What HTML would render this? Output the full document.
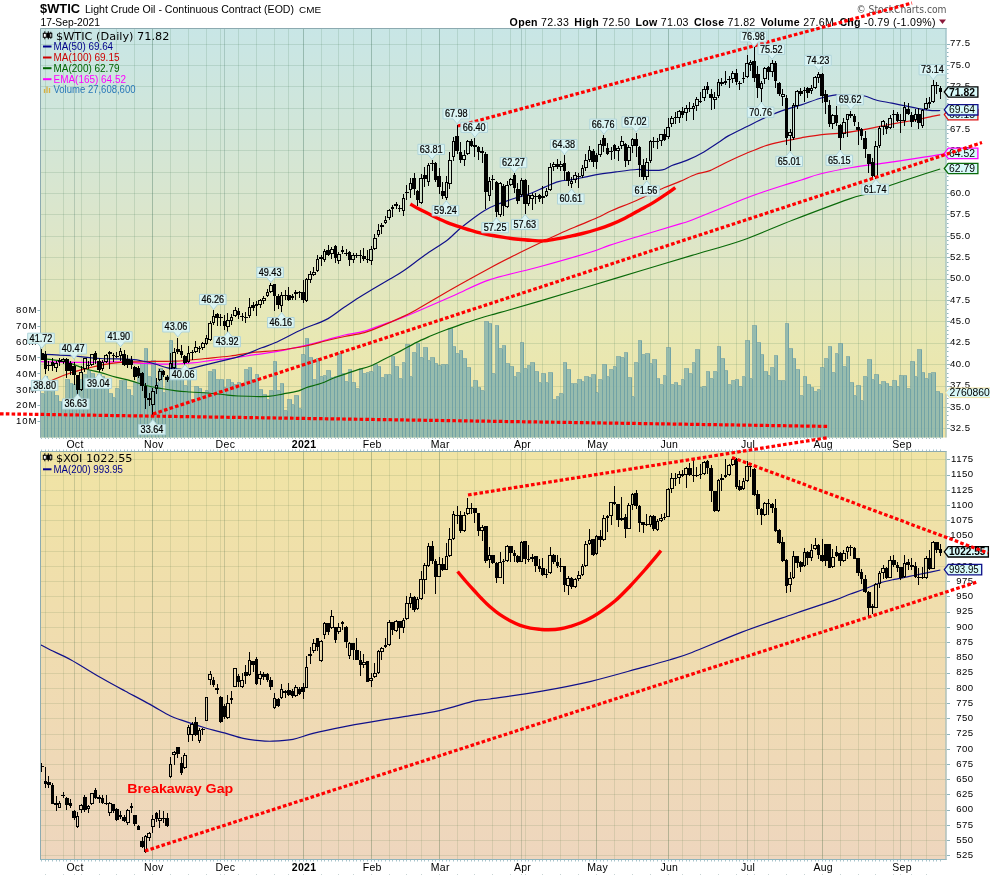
<!DOCTYPE html>
<html><head><meta charset="utf-8"><title>$WTIC Light Crude Oil</title>
<style>
html,body{margin:0;padding:0;background:#fff;}
svg{display:block;will-change:transform}
text{font-family:"Liberation Sans",sans-serif;fill:#000}
.ax{font-size:9.6px;letter-spacing:0.45px}
.mo{font-size:10.5px;text-anchor:middle;letter-spacing:0.3px}
.lg{font-size:11px}
.pl{font-size:10.2px;text-anchor:middle;stroke:#000;stroke-width:0.2px}
</style></head><body>
<svg width="990" height="876" viewBox="0 0 990 876">
<defs>
<linearGradient id="g1" x1="0" y1="0" x2="0" y2="1">
<stop offset="0" stop-color="#c8e6e6"/><stop offset="0.22" stop-color="#d0e6da"/><stop offset="0.52" stop-color="#dee6c8"/><stop offset="0.75" stop-color="#e8e8b4"/><stop offset="1" stop-color="#f0e4a4"/>
</linearGradient>
<linearGradient id="g2" x1="0" y1="0" x2="0" y2="1">
<stop offset="0" stop-color="#f0e4a4"/><stop offset="0.5" stop-color="#f0dcb0"/><stop offset="1" stop-color="#eed6be"/>
</linearGradient>
<clipPath id="c1"><rect x="40" y="28" width="906.5" height="409.5"/></clipPath>
<clipPath id="c2"><rect x="40" y="451" width="906.5" height="409"/></clipPath>
</defs>
<rect width="990" height="876" fill="#fff"/>

<rect x="40.0" y="28.0" width="906.5" height="409.5" fill="url(#g1)"/>
<rect x="40.0" y="451.0" width="906.5" height="409.0" fill="url(#g2)"/>
<path d="M40.0 428.5H946.5M40.0 407.5H946.5M40.0 386.5H946.5M40.0 364.5H946.5M40.0 343.5H946.5M40.0 321.5H946.5M40.0 300.5H946.5M40.0 279.5H946.5M40.0 257.5H946.5M40.0 236.5H946.5M40.0 214.5H946.5M40.0 193.5H946.5M40.0 172.5H946.5M40.0 150.5H946.5M40.0 129.5H946.5M40.0 108.5H946.5M40.0 86.5H946.5M40.0 65.5H946.5M40.0 44.5H946.5M45.5 28.0V437.5M63.5 28.0V437.5M81.5 28.0V437.5M99.5 28.0V437.5M116.5 28.0V437.5M134.5 28.0V437.5M152.5 28.0V437.5M170.5 28.0V437.5M188.5 28.0V437.5M206.5 28.0V437.5M220.5 28.0V437.5M238.5 28.0V437.5M256.5 28.0V437.5M274.5 28.0V437.5M288.5 28.0V437.5M303.5 28.0V437.5M321.5 28.0V437.5M338.5 28.0V437.5M353.5 28.0V437.5M371.5 28.0V437.5M389.5 28.0V437.5M406.5 28.0V437.5M421.5 28.0V437.5M439.5 28.0V437.5M457.5 28.0V437.5M474.5 28.0V437.5M492.5 28.0V437.5M510.5 28.0V437.5M525.5 28.0V437.5M542.5 28.0V437.5M560.5 28.0V437.5M578.5 28.0V437.5M596.5 28.0V437.5M614.5 28.0V437.5M632.5 28.0V437.5M650.5 28.0V437.5M668.5 28.0V437.5M682.5 28.0V437.5M700.5 28.0V437.5M718.5 28.0V437.5M736.5 28.0V437.5M754.5 28.0V437.5M768.5 28.0V437.5M786.5 28.0V437.5M804.5 28.0V437.5M822.5 28.0V437.5M840.5 28.0V437.5M858.5 28.0V437.5M875.5 28.0V437.5M893.5 28.0V437.5M911.5 28.0V437.5M926.5 28.0V437.5" stroke="#4a7a5a" stroke-opacity="0.17" stroke-width="1" fill="none"/>
<path d="M74.5 28.0V437.5M152.5 28.0V437.5M224.5 28.0V437.5M303.5 28.0V437.5M371.5 28.0V437.5M439.5 28.0V437.5M521.5 28.0V437.5M596.5 28.0V437.5M668.5 28.0V437.5M747.5 28.0V437.5M822.5 28.0V437.5M900.5 28.0V437.5" stroke="#3a6a5a" stroke-opacity="0.24" stroke-width="1" fill="none"/>
<path d="M40.0 855.5H946.5M40.0 840.5H946.5M40.0 825.5H946.5M40.0 810.5H946.5M40.0 794.5H946.5M40.0 779.5H946.5M40.0 764.5H946.5M40.0 749.5H946.5M40.0 734.5H946.5M40.0 718.5H946.5M40.0 703.5H946.5M40.0 688.5H946.5M40.0 673.5H946.5M40.0 657.5H946.5M40.0 642.5H946.5M40.0 627.5H946.5M40.0 612.5H946.5M40.0 596.5H946.5M40.0 581.5H946.5M40.0 566.5H946.5M40.0 551.5H946.5M40.0 536.5H946.5M40.0 520.5H946.5M40.0 505.5H946.5M40.0 490.5H946.5M40.0 475.5H946.5M40.0 459.5H946.5M45.5 451.0V860.0M63.5 451.0V860.0M81.5 451.0V860.0M99.5 451.0V860.0M116.5 451.0V860.0M134.5 451.0V860.0M152.5 451.0V860.0M170.5 451.0V860.0M188.5 451.0V860.0M206.5 451.0V860.0M220.5 451.0V860.0M238.5 451.0V860.0M256.5 451.0V860.0M274.5 451.0V860.0M288.5 451.0V860.0M303.5 451.0V860.0M321.5 451.0V860.0M338.5 451.0V860.0M353.5 451.0V860.0M371.5 451.0V860.0M389.5 451.0V860.0M406.5 451.0V860.0M421.5 451.0V860.0M439.5 451.0V860.0M457.5 451.0V860.0M474.5 451.0V860.0M492.5 451.0V860.0M510.5 451.0V860.0M525.5 451.0V860.0M542.5 451.0V860.0M560.5 451.0V860.0M578.5 451.0V860.0M596.5 451.0V860.0M614.5 451.0V860.0M632.5 451.0V860.0M650.5 451.0V860.0M668.5 451.0V860.0M682.5 451.0V860.0M700.5 451.0V860.0M718.5 451.0V860.0M736.5 451.0V860.0M754.5 451.0V860.0M768.5 451.0V860.0M786.5 451.0V860.0M804.5 451.0V860.0M822.5 451.0V860.0M840.5 451.0V860.0M858.5 451.0V860.0M875.5 451.0V860.0M893.5 451.0V860.0M911.5 451.0V860.0M926.5 451.0V860.0" stroke="#5a7a4a" stroke-opacity="0.15" stroke-width="1" fill="none"/>
<path d="M74.5 451.0V860.0M152.5 451.0V860.0M224.5 451.0V860.0M303.5 451.0V860.0M371.5 451.0V860.0M439.5 451.0V860.0M521.5 451.0V860.0M596.5 451.0V860.0M668.5 451.0V860.0M747.5 451.0V860.0M822.5 451.0V860.0M900.5 451.0V860.0" stroke="#4a6a4a" stroke-opacity="0.24" stroke-width="1" fill="none"/>
<g clip-path="url(#c1)">
<path d="M40.5 437.5V393.5H44.5V437.5M44.5 437.5V376.5H47.5V437.5M47.5 437.5V391.5H51.5V437.5M51.5 437.5V390.5H54.5V437.5M54.5 437.5V395.5H58.5V437.5M58.5 437.5V401.5H61.5V437.5M61.5 437.5V401.5H65.5V437.5M65.5 437.5V379.5H69.5V437.5M69.5 437.5V383.5H72.5V437.5M72.5 437.5V384.5H76.5V437.5M76.5 437.5V379.5H79.5V437.5M79.5 437.5V379.5H83.5V437.5M83.5 437.5V374.5H87.5V437.5M87.5 437.5V370.5H90.5V437.5M90.5 437.5V373.5H94.5V437.5M94.5 437.5V377.5H97.5V437.5M97.5 437.5V374.5H101.5V437.5M101.5 437.5V376.5H104.5V437.5M104.5 437.5V382.5H108.5V437.5M108.5 437.5V393.5H112.5V437.5M112.5 437.5V397.5H115.5V437.5M115.5 437.5V388.5H119.5V437.5M119.5 437.5V380.5H122.5V437.5M122.5 437.5V380.5H126.5V437.5M126.5 437.5V389.5H130.5V437.5M130.5 437.5V395.5H133.5V437.5M133.5 437.5V382.5H137.5V437.5M137.5 437.5V376.5H140.5V437.5M140.5 437.5V363.5H144.5V437.5M144.5 437.5V348.5H147.5V437.5M147.5 437.5V376.5H151.5V437.5M151.5 437.5V360.5H155.5V437.5M155.5 437.5V382.5H158.5V437.5M158.5 437.5V368.5H162.5V437.5M162.5 437.5V392.5H165.5V437.5M165.5 437.5V376.5H169.5V437.5M169.5 437.5V340.5H172.5V437.5M172.5 437.5V360.5H176.5V437.5M176.5 437.5V369.5H180.5V437.5M180.5 437.5V379.5H183.5V437.5M183.5 437.5V385.5H187.5V437.5M187.5 437.5V378.5H190.5V437.5M190.5 437.5V399.5H194.5V437.5M194.5 437.5V386.5H198.5V437.5M198.5 437.5V388.5H201.5V437.5M201.5 437.5V392.5H205.5V437.5M205.5 437.5V390.5H208.5V437.5M208.5 437.5V371.5H212.5V437.5M212.5 437.5V369.5H215.5V437.5M215.5 437.5V379.5H219.5V437.5M219.5 437.5V379.5H223.5V437.5M223.5 437.5V387.5H226.5V437.5M226.5 437.5V379.5H230.5V437.5M230.5 437.5V382.5H233.5V437.5M233.5 437.5V384.5H237.5V437.5M237.5 437.5V382.5H240.5V437.5M240.5 437.5V385.5H244.5V437.5M244.5 437.5V369.5H248.5V437.5M248.5 437.5V367.5H251.5V437.5M251.5 437.5V379.5H255.5V437.5M255.5 437.5V374.5H258.5V437.5M258.5 437.5V389.5H262.5V437.5M262.5 437.5V394.5H266.5V437.5M266.5 437.5V399.5H269.5V437.5M269.5 437.5V390.5H273.5V437.5M273.5 437.5V361.5H276.5V437.5M276.5 437.5V390.5H280.5V437.5M280.5 437.5V383.5H283.5V437.5M283.5 437.5V410.5H287.5V437.5M287.5 437.5V399.5H291.5V437.5M291.5 437.5V404.5H294.5V437.5M294.5 437.5V395.5H298.5V437.5M298.5 437.5V408.5H301.5V437.5M301.5 437.5V354.5H305.5V437.5M305.5 437.5V338.5H308.5V437.5M308.5 437.5V357.5H312.5V437.5M312.5 437.5V379.5H316.5V437.5M316.5 437.5V358.5H319.5V437.5M319.5 437.5V376.5H323.5V437.5M323.5 437.5V375.5H326.5V437.5M326.5 437.5V370.5H330.5V437.5M330.5 437.5V377.5H334.5V437.5M334.5 437.5V376.5H337.5V437.5M337.5 437.5V353.5H341.5V437.5M341.5 437.5V373.5H344.5V437.5M344.5 437.5V381.5H348.5V437.5M348.5 437.5V369.5H351.5V437.5M351.5 437.5V382.5H355.5V437.5M355.5 437.5V388.5H359.5V437.5M359.5 437.5V368.5H362.5V437.5M362.5 437.5V373.5H366.5V437.5M366.5 437.5V372.5H369.5V437.5M369.5 437.5V371.5H373.5V437.5M373.5 437.5V364.5H377.5V437.5M377.5 437.5V366.5H380.5V437.5M380.5 437.5V377.5H384.5V437.5M384.5 437.5V374.5H387.5V437.5M387.5 437.5V374.5H391.5V437.5M391.5 437.5V356.5H394.5V437.5M394.5 437.5V366.5H398.5V437.5M398.5 437.5V378.5H402.5V437.5M402.5 437.5V362.5H405.5V437.5M405.5 437.5V344.5H409.5V437.5M409.5 437.5V376.5H412.5V437.5M412.5 437.5V352.5H416.5V437.5M416.5 437.5V343.5H419.5V437.5M419.5 437.5V357.5H423.5V437.5M423.5 437.5V347.5H427.5V437.5M427.5 437.5V360.5H430.5V437.5M430.5 437.5V357.5H434.5V437.5M434.5 437.5V363.5H437.5V437.5M437.5 437.5V365.5H441.5V437.5M441.5 437.5V364.5H445.5V437.5M445.5 437.5V364.5H448.5V437.5M448.5 437.5V328.5H452.5V437.5M452.5 437.5V346.5H455.5V437.5M455.5 437.5V353.5H459.5V437.5M459.5 437.5V350.5H462.5V437.5M462.5 437.5V358.5H466.5V437.5M466.5 437.5V367.5H470.5V437.5M470.5 437.5V387.5H473.5V437.5M473.5 437.5V380.5H477.5V437.5M477.5 437.5V387.5H480.5V437.5M480.5 437.5V390.5H484.5V437.5M484.5 437.5V321.5H488.5V437.5M488.5 437.5V323.5H491.5V437.5M491.5 437.5V373.5H495.5V437.5M495.5 437.5V325.5H498.5V437.5M498.5 437.5V348.5H502.5V437.5M502.5 437.5V345.5H505.5V437.5M505.5 437.5V363.5H509.5V437.5M509.5 437.5V366.5H513.5V437.5M513.5 437.5V376.5H516.5V437.5M516.5 437.5V372.5H520.5V437.5M520.5 437.5V342.5H523.5V437.5M523.5 437.5V368.5H527.5V437.5M527.5 437.5V365.5H530.5V437.5M530.5 437.5V362.5H534.5V437.5M534.5 437.5V371.5H538.5V437.5M538.5 437.5V382.5H541.5V437.5M541.5 437.5V373.5H545.5V437.5M545.5 437.5V382.5H548.5V437.5M548.5 437.5V372.5H552.5V437.5M552.5 437.5V399.5H556.5V437.5M556.5 437.5V396.5H559.5V437.5M559.5 437.5V393.5H563.5V437.5M563.5 437.5V362.5H566.5V437.5M566.5 437.5V369.5H570.5V437.5M570.5 437.5V383.5H573.5V437.5M573.5 437.5V383.5H577.5V437.5M577.5 437.5V379.5H581.5V437.5M581.5 437.5V381.5H584.5V437.5M584.5 437.5V376.5H588.5V437.5M588.5 437.5V377.5H591.5V437.5M591.5 437.5V374.5H595.5V437.5M595.5 437.5V392.5H598.5V437.5M598.5 437.5V379.5H602.5V437.5M602.5 437.5V364.5H606.5V437.5M606.5 437.5V376.5H609.5V437.5M609.5 437.5V369.5H613.5V437.5M613.5 437.5V366.5H616.5V437.5M616.5 437.5V356.5H620.5V437.5M620.5 437.5V357.5H624.5V437.5M624.5 437.5V352.5H627.5V437.5M627.5 437.5V377.5H631.5V437.5M631.5 437.5V396.5H634.5V437.5M634.5 437.5V362.5H638.5V437.5M638.5 437.5V340.5H641.5V437.5M641.5 437.5V354.5H645.5V437.5M645.5 437.5V353.5H649.5V437.5M649.5 437.5V363.5H652.5V437.5M652.5 437.5V359.5H656.5V437.5M656.5 437.5V378.5H659.5V437.5M659.5 437.5V384.5H663.5V437.5M663.5 437.5V375.5H666.5V437.5M666.5 437.5V347.5H670.5V437.5M670.5 437.5V384.5H674.5V437.5M674.5 437.5V382.5H677.5V437.5M677.5 437.5V385.5H681.5V437.5M681.5 437.5V379.5H684.5V437.5M684.5 437.5V368.5H688.5V437.5M688.5 437.5V373.5H692.5V437.5M692.5 437.5V362.5H695.5V437.5M695.5 437.5V349.5H699.5V437.5M699.5 437.5V387.5H702.5V437.5M702.5 437.5V386.5H706.5V437.5M706.5 437.5V371.5H709.5V437.5M709.5 437.5V378.5H713.5V437.5M713.5 437.5V371.5H717.5V437.5M717.5 437.5V346.5H720.5V437.5M720.5 437.5V358.5H724.5V437.5M724.5 437.5V370.5H727.5V437.5M727.5 437.5V384.5H731.5V437.5M731.5 437.5V380.5H735.5V437.5M735.5 437.5V379.5H738.5V437.5M738.5 437.5V386.5H742.5V437.5M742.5 437.5V376.5H745.5V437.5M745.5 437.5V340.5H749.5V437.5M749.5 437.5V378.5H752.5V437.5M752.5 437.5V325.5H756.5V437.5M756.5 437.5V342.5H760.5V437.5M760.5 437.5V354.5H763.5V437.5M763.5 437.5V371.5H767.5V437.5M767.5 437.5V375.5H770.5V437.5M770.5 437.5V367.5H774.5V437.5M774.5 437.5V355.5H777.5V437.5M777.5 437.5V380.5H781.5V437.5M781.5 437.5V380.5H785.5V437.5M785.5 437.5V323.5H788.5V437.5M788.5 437.5V348.5H792.5V437.5M792.5 437.5V358.5H795.5V437.5M795.5 437.5V369.5H799.5V437.5M799.5 437.5V395.5H803.5V437.5M803.5 437.5V376.5H806.5V437.5M806.5 437.5V384.5H810.5V437.5M810.5 437.5V387.5H813.5V437.5M813.5 437.5V391.5H817.5V437.5M817.5 437.5V389.5H820.5V437.5M820.5 437.5V367.5H824.5V437.5M824.5 437.5V358.5H828.5V437.5M828.5 437.5V346.5H831.5V437.5M831.5 437.5V372.5H835.5V437.5M835.5 437.5V353.5H838.5V437.5M838.5 437.5V343.5H842.5V437.5M842.5 437.5V366.5H846.5V437.5M846.5 437.5V356.5H849.5V437.5M849.5 437.5V382.5H853.5V437.5M853.5 437.5V395.5H856.5V437.5M856.5 437.5V385.5H860.5V437.5M860.5 437.5V400.5H863.5V437.5M863.5 437.5V376.5H867.5V437.5M867.5 437.5V359.5H871.5V437.5M871.5 437.5V379.5H874.5V437.5M874.5 437.5V374.5H878.5V437.5M878.5 437.5V384.5H881.5V437.5M881.5 437.5V381.5H885.5V437.5M885.5 437.5V383.5H888.5V437.5M888.5 437.5V386.5H892.5V437.5M892.5 437.5V380.5H896.5V437.5M896.5 437.5V386.5H899.5V437.5M899.5 437.5V375.5H903.5V437.5M903.5 437.5V375.5H906.5V437.5M906.5 437.5V388.5H910.5V437.5M910.5 437.5V361.5H914.5V437.5M914.5 437.5V376.5H917.5V437.5M917.5 437.5V349.5H921.5V437.5M921.5 437.5V372.5H924.5V437.5M924.5 437.5V378.5H928.5V437.5M928.5 437.5V373.5H931.5V437.5M931.5 437.5V372.5H935.5V437.5M935.5 437.5V391.5H939.5V437.5M939.5 437.5V393.5H942.5V437.5" fill="#8eb7ad" fill-opacity="0.9" stroke="#5c94a2" stroke-opacity="0.62" stroke-width="1" shape-rendering="crispEdges"/>
<path d="M40.0 358.5C43.8 358.9 55.1 359.5 62.7 361.2C70.3 362.9 79.2 366.9 85.5 368.8C91.8 370.7 95.5 371.2 100.6 372.6C105.6 374.0 110.7 375.7 115.8 377.1C120.9 378.5 126.0 379.5 131.0 380.9C136.0 382.3 141.0 384.2 146.0 385.5C151.0 386.8 156.1 387.6 161.2 388.5C166.3 389.4 171.6 390.2 176.4 390.8C181.2 391.4 184.8 391.6 190.0 392.0C195.2 392.4 202.2 392.6 207.7 393.0C213.2 393.4 217.9 394.0 223.0 394.5C228.1 395.0 230.4 395.7 238.0 396.0C245.6 396.3 260.7 396.8 268.3 396.4C275.9 396.0 278.4 394.7 283.5 393.8C288.6 392.9 294.9 391.8 298.6 390.8C302.4 389.8 302.2 389.0 306.0 387.7C309.8 386.4 316.6 384.9 321.4 383.2C326.2 381.5 329.4 379.6 335.0 377.5C340.6 375.4 349.4 372.5 355.3 370.6C361.2 368.7 365.4 368.0 370.5 366.0C375.6 364.0 380.6 361.0 385.6 358.5C390.7 356.0 395.7 353.5 400.8 350.9C405.9 348.2 411.0 345.1 416.0 342.6C421.0 340.1 426.0 338.0 431.0 335.8C436.0 333.6 441.1 331.6 446.2 329.7C451.3 327.8 455.8 326.3 461.4 324.4C467.0 322.5 474.4 320.1 480.0 318.3C485.6 316.5 490.5 315.2 495.3 313.8C500.1 312.4 501.5 312.2 509.0 310.0C516.5 307.8 526.8 304.9 540.5 300.8C554.2 296.8 574.2 290.8 591.0 285.7C607.8 280.6 624.7 275.6 641.5 270.5C658.3 265.4 675.2 260.4 692.0 255.4C708.8 250.3 725.7 246.1 742.5 240.2C759.3 234.3 775.3 226.8 793.0 220.0C810.7 213.2 836.3 203.5 848.8 199.1C861.3 194.7 860.8 195.9 868.0 193.5C875.2 191.1 884.0 187.5 892.0 184.7C900.0 181.9 908.0 179.3 916.0 176.7C924.0 174.1 936.2 170.3 940.2 169.0" stroke="#0a6a0a" stroke-width="1.2" fill="none"/>
<path d="M40.0 361.7C47.6 361.8 72.9 362.4 85.5 362.4C98.1 362.4 105.7 361.6 115.8 361.8C125.9 362.0 137.2 363.1 146.0 363.5C154.8 363.9 161.0 364.3 168.8 364.2C176.6 364.1 185.6 363.5 192.7 362.9C199.8 362.3 205.2 361.1 211.5 360.4C217.8 359.6 223.1 359.3 230.4 358.4C237.7 357.4 247.8 355.8 255.4 354.7C263.0 353.6 267.6 353.2 276.0 351.6C284.4 350.0 297.5 347.3 306.0 345.3C314.5 343.3 320.6 341.5 327.0 339.8C333.4 338.1 338.5 336.4 344.7 335.0C350.9 333.6 357.6 333.1 364.4 331.2C371.2 329.3 379.5 325.8 385.6 323.6C391.7 321.5 395.0 320.6 400.8 318.3C406.6 316.0 411.5 313.9 420.5 310.0C429.5 306.1 443.4 300.1 455.0 295.0C466.6 289.9 475.8 284.4 490.0 279.6C504.2 274.9 523.7 271.1 540.5 266.5C557.3 261.9 579.5 255.5 591.0 252.0C602.5 248.5 601.3 248.0 609.3 245.4C617.3 242.8 627.2 239.8 639.0 236.2C650.8 232.6 671.2 226.6 680.0 223.9C688.8 221.2 681.6 224.1 692.0 220.0C702.4 215.9 730.7 204.2 742.5 199.5C754.3 194.8 756.2 194.3 763.0 192.0C769.8 189.7 776.6 187.5 783.0 185.5C789.4 183.5 795.1 181.9 801.3 180.0C807.5 178.1 811.5 176.1 820.0 174.0C828.5 171.9 841.3 169.3 852.0 167.5C862.7 165.7 873.3 164.6 884.0 163.1C894.7 161.6 905.9 159.9 916.0 158.3C926.1 156.8 939.8 154.6 944.5 153.8" stroke="#ff00ff" stroke-width="1.2" fill="none"/>
<path d="M43.0 385.0C45.0 384.0 50.5 381.0 55.0 379.0C59.5 377.0 64.7 374.8 70.3 373.0C75.9 371.2 83.5 369.3 88.5 368.0C93.5 366.7 95.7 366.0 100.6 365.1C105.5 364.2 111.9 363.2 118.0 362.6C124.1 362.1 130.0 362.0 137.0 361.8C144.0 361.6 152.8 361.5 160.0 361.4C167.2 361.3 172.5 361.5 180.0 361.0C187.5 360.5 196.8 359.3 205.2 358.5C213.6 357.7 222.0 357.1 230.4 356.0C238.8 354.9 247.8 353.1 255.4 352.2C263.0 351.3 267.6 351.5 276.0 350.5C284.4 349.5 297.8 347.6 306.0 346.0C314.2 344.4 318.6 342.6 325.0 341.0C331.4 339.4 338.1 337.9 344.7 336.5C351.3 335.1 357.6 334.7 364.4 332.7C371.2 330.7 379.5 326.9 385.6 324.4C391.7 321.9 395.7 320.0 400.8 317.6C405.9 315.2 407.5 314.8 416.0 310.0C424.5 305.2 439.7 296.0 452.0 289.0C464.3 282.0 479.5 273.7 490.0 268.0C500.5 262.3 506.5 259.4 515.2 255.0C523.9 250.6 534.8 245.4 542.4 241.8C550.0 238.2 554.2 236.1 560.6 233.2C567.0 230.3 574.2 227.4 580.8 224.6C587.4 221.8 594.8 218.8 600.0 216.5C605.2 214.2 605.7 213.2 612.0 210.5C618.3 207.8 628.9 203.8 637.6 200.0C646.3 196.2 656.9 190.9 664.0 187.8C671.1 184.7 674.7 183.7 680.0 181.4C685.3 179.2 690.9 176.1 695.9 174.3C700.9 172.5 704.6 172.7 710.0 170.6C715.4 168.5 722.2 164.4 728.3 161.5C734.4 158.6 740.4 155.9 746.5 153.3C752.6 150.7 758.7 148.0 764.8 146.0C770.9 144.0 776.9 142.8 783.0 141.4C789.1 140.0 795.1 138.9 801.3 137.8C807.5 136.7 812.9 135.6 820.0 134.8C827.1 134.0 836.0 133.8 844.0 132.8C852.0 131.8 860.0 130.3 868.0 128.8C876.0 127.3 884.0 125.5 892.0 124.0C900.0 122.5 909.3 121.3 916.0 120.0C922.7 118.7 928.0 117.2 932.0 116.3C936.0 115.4 938.8 115.0 940.2 114.8" stroke="#dd1111" stroke-width="1.2" fill="none"/>
<path d="M40.0 354.3C45.0 354.5 60.2 355.0 70.3 355.7C80.4 356.4 90.5 357.9 100.6 358.5C110.7 359.1 123.6 358.8 131.0 359.3C138.4 359.8 141.0 360.7 145.0 361.5C149.0 362.3 151.2 362.9 155.0 364.0C158.8 365.1 163.3 367.0 167.5 367.9C171.7 368.8 176.7 369.0 180.0 369.2C183.3 369.4 183.4 369.9 187.6 369.2C191.8 368.5 199.1 366.3 205.2 364.8C211.3 363.3 217.7 362.0 224.0 360.4C230.3 358.8 236.6 357.5 242.9 355.4C249.2 353.3 256.3 349.9 261.7 347.8C267.1 345.7 268.1 345.9 275.0 342.8C281.9 339.7 294.6 332.8 303.0 329.0C311.4 325.2 318.7 323.5 325.6 319.9C332.5 316.3 338.6 310.9 344.2 307.2C349.8 303.5 354.1 300.6 359.0 297.5C363.9 294.4 368.6 291.7 373.8 288.6C379.0 285.5 385.0 282.0 390.0 279.0C395.0 276.0 398.2 274.5 404.0 270.5C409.8 266.5 417.8 260.1 425.0 255.0C432.2 249.9 441.4 244.5 447.5 239.9C453.6 235.3 455.6 232.0 461.6 227.2C467.7 222.4 477.4 214.9 483.8 210.9C490.2 206.9 494.4 205.7 500.0 203.4C505.6 201.2 512.2 199.1 517.4 197.4C522.6 195.7 526.4 195.0 531.0 193.3C535.6 191.6 540.2 189.1 544.8 187.1C549.4 185.1 553.9 182.8 558.5 181.6C563.1 180.3 567.6 180.4 572.2 179.6C576.8 178.8 581.3 177.7 585.9 176.8C590.5 175.9 594.6 175.0 599.6 174.2C604.6 173.4 609.8 172.7 616.0 171.9C622.2 171.1 631.5 169.8 636.8 169.5C642.1 169.2 643.8 170.2 648.0 170.3C652.2 170.4 658.3 170.7 662.3 169.9C666.3 169.1 667.6 167.2 671.9 165.5C676.2 163.8 682.6 162.2 687.9 159.9C693.2 157.6 698.5 155.0 703.9 151.9C709.2 148.8 715.9 144.2 720.0 141.5C724.1 138.8 723.9 138.3 728.3 135.9C732.7 133.5 740.4 129.8 746.5 126.8C752.6 123.8 758.7 120.4 764.8 117.7C770.9 115.0 776.9 112.5 783.0 110.4C789.1 108.3 795.2 106.9 801.3 104.9C807.4 102.9 813.8 100.2 819.6 98.5C825.4 96.8 830.6 95.4 836.0 94.9C841.4 94.4 847.2 95.3 852.0 95.5C856.8 95.7 860.8 95.2 864.8 96.0C868.8 96.8 871.5 98.8 876.0 100.0C880.5 101.2 886.7 102.1 892.0 103.2C897.3 104.3 902.7 105.3 908.0 106.4C913.3 107.5 920.0 108.9 924.0 109.6C928.0 110.3 929.3 110.4 932.0 110.6C934.7 110.8 938.8 110.5 940.2 110.5" stroke="#10108a" stroke-width="1.2" fill="none"/>
<path d="M41.5 349V360M45.5 351V374M48.5 361V365M48.5 366V371M52.5 358V371M56.5 361V363M56.5 368V372M59.5 358V366M63.5 358V359M63.5 362V364M66.5 358V378M70.5 361V375M74.5 362V385M77.5 375V394M81.5 366V372M81.5 390V391M84.5 358V358M84.5 369V372M88.5 361V365M88.5 366V369M91.5 354V354M91.5 365V366M95.5 351V364M99.5 358V372M102.5 360V362M102.5 369V371M106.5 354V355M106.5 362V363M109.5 351V369M113.5 353V362M116.5 352V358M120.5 348V351M120.5 356V361M124.5 350V366M127.5 355V368M131.5 356V369M134.5 366V380M138.5 366V378M142.5 372V391M145.5 383V409M149.5 393V406M152.5 388V391M152.5 405V415M156.5 378V385M156.5 389V394M159.5 369V371M159.5 380V381M163.5 370V377M167.5 375V382M170.5 353V363M170.5 379V380M174.5 348V352M174.5 368V369M177.5 338V354M181.5 345V358M184.5 355V365M188.5 346V353M188.5 362V363M192.5 350V352M192.5 353V360M195.5 341V347M195.5 352V353M199.5 346V348M199.5 349V353M202.5 342V343M202.5 348V350M206.5 335V338M206.5 344V345M210.5 321V323M210.5 340V341M213.5 310V316M213.5 323V325M217.5 313V326M220.5 314V326M224.5 315V330M227.5 313V320M227.5 327V332M231.5 314V317M231.5 321V325M235.5 307V310M235.5 316V317M238.5 308V319M242.5 313V321M245.5 312V323M249.5 298V307M249.5 316V318M253.5 302V311M256.5 301V316M260.5 299V300M260.5 305V308M263.5 296V298M263.5 301V304M267.5 289V292M267.5 296V297M270.5 283V285M270.5 292V293M274.5 284V311M278.5 294V309M281.5 292V295M281.5 306V312M285.5 290V300M288.5 287V301M292.5 294V296M292.5 298V300M295.5 290V292M295.5 294V300M299.5 291V292M299.5 293V298M303.5 280V303M306.5 278V279M306.5 301V302M310.5 271V274M310.5 280V283M313.5 267V272M313.5 275V276M317.5 255V259M317.5 271V272M321.5 255V266M324.5 249V251M324.5 260V262M328.5 245V256M331.5 247V249M331.5 254V259M335.5 245V263M338.5 252V254M338.5 261V264M342.5 246V250M342.5 252V254M346.5 249V256M349.5 251V266M353.5 253V255M353.5 260V263M356.5 253V258M360.5 250V263M363.5 248V261M367.5 250V263M371.5 246V249M371.5 261V265M374.5 234V238M374.5 249V250M378.5 224V230M378.5 235V237M381.5 223V225M381.5 227V234M385.5 216V220M385.5 223V224M389.5 209V210M389.5 218V220M392.5 205V207M392.5 209V217M396.5 202V204M396.5 206V209M399.5 205V212M403.5 194V198M403.5 211V216M406.5 185V200M410.5 178V183M410.5 190V198M414.5 173V195M417.5 190V206M421.5 174V178M421.5 203V204M424.5 167V187M428.5 163V165M428.5 182V186M432.5 160V163M432.5 164V171M435.5 162V182M439.5 168V194M442.5 182V199M446.5 176V182M446.5 198V200M449.5 152V160M449.5 184V189M453.5 137V141M453.5 157V161M457.5 125V154M460.5 142V163M464.5 150V155M464.5 160V166M467.5 140V141M467.5 154V155M471.5 139V147M474.5 138V157M478.5 146V160M482.5 147V163M485.5 152V209M489.5 177V181M489.5 196V201M492.5 175V190M496.5 181V217M500.5 182V183M500.5 215V217M503.5 184V216M507.5 181V185M507.5 207V208M510.5 178V179M510.5 185V186M514.5 173V193M517.5 183V204M521.5 178V180M521.5 195V197M525.5 179V214M528.5 185V195M528.5 204V206M532.5 193V195M532.5 199V210M535.5 193V204M539.5 194V202M542.5 186V196M542.5 198V204M546.5 188V191M546.5 196V197M550.5 163V167M550.5 190V191M553.5 162V164M553.5 167V171M557.5 159V169M560.5 161V164M560.5 167V171M564.5 155V180M568.5 171V186M571.5 177V181M571.5 184V188M575.5 172V175M575.5 180V183M578.5 173V188M582.5 165V168M582.5 176V178M585.5 154V160M585.5 168V171M589.5 146V150M589.5 160V162M593.5 149V167M596.5 153V169M600.5 140V144M600.5 155V157M603.5 135V152M607.5 143V155M611.5 147V160M614.5 144V159M618.5 146V148M618.5 151V161M621.5 136V141M621.5 146V149M625.5 143V167M628.5 145V147M628.5 161V165M632.5 138V139M632.5 146V153M636.5 133V157M639.5 146V177M643.5 159V180M646.5 158V162M646.5 177V180M650.5 140V141M650.5 161V163M653.5 137V148M657.5 138V149M661.5 134V134M661.5 141V146M664.5 129V141M668.5 118V127M668.5 137V139M671.5 116V118M671.5 124V127M675.5 112V124M679.5 110V111M679.5 118V123M682.5 107V118M686.5 105V108M686.5 113V121M689.5 102V112M693.5 103V106M693.5 109V120M696.5 97V99M696.5 106V111M700.5 92V101M700.5 102V103M704.5 86V89M704.5 98V101M707.5 82V94M711.5 89V110M714.5 92V97M714.5 100V109M718.5 79V82M718.5 96V98M721.5 78V86M725.5 71V81M725.5 83V85M729.5 76V88M732.5 71V73M732.5 79V83M736.5 69V85M739.5 81V90M743.5 72V83M747.5 55V63M747.5 77V78M750.5 60V62M750.5 65V71M754.5 47V82M757.5 66V98M761.5 81V83M761.5 89V102M764.5 67V68M764.5 79V84M768.5 66V80M772.5 60V63M772.5 72V77M775.5 61V88M779.5 82V96M782.5 89V94M782.5 97V106M786.5 95V145M790.5 129V132M790.5 136V151M793.5 103V105M793.5 138V140M797.5 90V91M797.5 106V109M800.5 88V96M804.5 87V102M807.5 87V98M811.5 85V88M811.5 91V94M815.5 76V77M815.5 88V89M818.5 72V74M818.5 78V83M822.5 73V103M825.5 90V114M829.5 100V127M832.5 114V115M832.5 124V129M836.5 106V126M840.5 124V150M843.5 118V122M843.5 134V138M847.5 114V114M847.5 120V137M850.5 111V118M854.5 114V126M858.5 122V145M861.5 128V140M865.5 131V158M868.5 154V173M872.5 158V178M875.5 141V146M875.5 177V179M879.5 126V128M879.5 146V148M883.5 120V121M883.5 127V135M886.5 123V134M890.5 115V118M890.5 128V129M893.5 110V128M897.5 112V122M900.5 114V133M904.5 102V107M904.5 121V126M908.5 103V115M911.5 112V127M915.5 109V114M915.5 120V122M918.5 108V129M922.5 109V110M922.5 126V128M926.5 98V103M926.5 109V110M929.5 97V102M929.5 104V108M933.5 80V85M933.5 102V103M936.5 82V94M940.5 86V99" stroke="#000" stroke-width="1" fill="none" shape-rendering="crispEdges"/><path d="M40 353h4V360h-4zM44 354h3V369h-3zM47 365h4V366h-4zM51 362h3V366h-3zM58 360h3V362h-3zM65 359h4V371h-4zM69 363h3V371h-3zM72 366h4V375h-4zM76 375h3V390h-3zM87 365h3V366h-3zM94 353h3V360h-3zM97 361h4V370h-4zM108 352h4V354h-4zM112 355h3V356h-3zM115 356h4V357h-4zM122 354h4V365h-4zM126 359h4V365h-4zM130 360h3V365h-3zM133 367h4V377h-4zM137 368h3V376h-3zM140 373h4V386h-4zM144 386h3V398h-3zM147 398h4V400h-4zM162 371h3V375h-3zM165 377h4V380h-4zM176 349h4V352h-4zM180 351h3V355h-3zM183 356h4V363h-4zM190 352h4V353h-4zM198 348h3V349h-3zM215 314h4V318h-4zM219 317h4V318h-4zM223 321h3V326h-3zM237 311h3V315h-3zM240 316h4V317h-4zM244 317h4V318h-4zM251 305h4V308h-4zM255 304h3V306h-3zM273 284h3V296h-3zM276 296h4V305h-4zM283 295h4V296h-4zM287 295h4V300h-4zM291 296h3V298h-3zM294 292h4V294h-4zM298 292h3V293h-3zM301 292h4V300h-4zM319 257h4V259h-4zM326 250h4V255h-4zM334 246h3V258h-3zM341 250h3V252h-3zM344 253h4V254h-4zM348 252h3V260h-3zM355 255h4V256h-4zM359 255h3V256h-3zM362 256h4V259h-4zM366 259h3V260h-3zM380 225h4V227h-4zM391 207h3V209h-3zM394 204h4V206h-4zM398 208h4V209h-4zM405 192h4V193h-4zM412 178h4V189h-4zM416 191h3V200h-3zM423 175h4V179h-4zM430 163h4V164h-4zM434 163h3V180h-3zM437 176h4V187h-4zM441 191h4V196h-4zM455 136h4V151h-4zM459 152h3V160h-3zM470 141h3V146h-3zM473 145h4V147h-4zM477 147h3V152h-3zM480 151h4V153h-4zM484 154h4V192h-4zM491 179h4V180h-4zM495 182h3V212h-3zM502 186h3V206h-3zM513 175h3V188h-3zM516 189h4V201h-4zM523 180h4V204h-4zM534 196h4V197h-4zM538 195h3V199h-3zM541 196h4V198h-4zM556 164h3V167h-3zM563 163h3V171h-3zM566 172h4V181h-4zM577 176h4V177h-4zM591 151h4V162h-4zM595 155h3V162h-3zM602 138h4V146h-4zM606 148h3V154h-3zM609 151h4V152h-4zM613 145h3V151h-3zM624 144h3V161h-3zM634 139h4V146h-4zM638 147h3V165h-3zM641 165h4V177h-4zM652 141h4V142h-4zM656 141h3V142h-3zM663 134h3V140h-3zM674 117h3V118h-3zM681 111h3V115h-3zM688 108h4V109h-4zM699 101h3V102h-3zM706 86h3V90h-3zM709 94h4V98h-4zM720 82h4V84h-4zM724 81h3V83h-3zM727 79h4V80h-4zM735 73h3V82h-3zM738 83h4V84h-4zM742 78h3V79h-3zM752 61h4V78h-4zM756 74h4V88h-4zM767 67h3V72h-3zM774 63h3V81h-3zM777 83h4V94h-4zM785 98h3V138h-3zM799 91h4V94h-4zM803 90h3V91h-3zM806 88h4V93h-4zM820 74h4V96h-4zM824 94h4V102h-4zM828 105h3V124h-3zM835 115h3V123h-3zM838 125h4V138h-4zM849 114h4V116h-4zM853 116h3V122h-3zM856 127h4V130h-4zM860 129h3V136h-3zM863 138h4V149h-4zM867 154h4V164h-4zM871 162h3V176h-3zM885 126h3V129h-3zM892 114h4V115h-4zM896 114h3V121h-3zM899 120h4V121h-4zM906 109h4V114h-4zM910 115h4V122h-4zM917 114h4V123h-4zM928 102h3V104h-3zM935 85h4V86h-4zM939 88h3V92h-3z" fill="#000" shape-rendering="crispEdges"/><path d="M54.5 363.5h3V367.5h-3zM61.5 359.5h3V361.5h-3zM79.5 372.5h3V389.5h-3zM83.5 358.5h3V368.5h-3zM90.5 354.5h3V364.5h-3zM101.5 362.5h2V368.5h-2zM104.5 355.5h3V361.5h-3zM119.5 351.5h2V355.5h-2zM151.5 391.5h3V404.5h-3zM155.5 385.5h2V388.5h-2zM158.5 371.5h3V379.5h-3zM169.5 363.5h2V378.5h-2zM172.5 352.5h3V367.5h-3zM187.5 353.5h2V361.5h-2zM194.5 347.5h3V351.5h-3zM201.5 343.5h3V347.5h-3zM205.5 338.5h2V343.5h-2zM208.5 323.5h3V339.5h-3zM212.5 316.5h2V322.5h-2zM226.5 320.5h3V326.5h-3zM230.5 317.5h2V320.5h-2zM233.5 310.5h3V315.5h-3zM248.5 307.5h2V315.5h-2zM258.5 300.5h3V304.5h-3zM262.5 298.5h3V300.5h-3zM266.5 292.5h2V295.5h-2zM269.5 285.5h3V291.5h-3zM280.5 295.5h2V305.5h-2zM305.5 279.5h2V300.5h-2zM308.5 274.5h3V279.5h-3zM312.5 272.5h3V274.5h-3zM316.5 259.5h2V270.5h-2zM323.5 251.5h2V259.5h-2zM330.5 249.5h3V253.5h-3zM337.5 254.5h3V260.5h-3zM351.5 255.5h3V259.5h-3zM369.5 249.5h3V260.5h-3zM373.5 238.5h3V248.5h-3zM377.5 230.5h2V234.5h-2zM384.5 220.5h2V222.5h-2zM387.5 210.5h3V217.5h-3zM402.5 198.5h2V210.5h-2zM409.5 183.5h2V189.5h-2zM419.5 178.5h3V202.5h-3zM427.5 165.5h2V181.5h-2zM445.5 182.5h2V197.5h-2zM448.5 160.5h3V183.5h-3zM452.5 141.5h2V156.5h-2zM462.5 155.5h3V159.5h-3zM466.5 141.5h3V153.5h-3zM488.5 181.5h2V195.5h-2zM498.5 183.5h3V214.5h-3zM505.5 185.5h3V206.5h-3zM509.5 179.5h3V184.5h-3zM520.5 180.5h2V194.5h-2zM527.5 195.5h2V203.5h-2zM530.5 195.5h3V198.5h-3zM545.5 191.5h2V195.5h-2zM548.5 167.5h3V189.5h-3zM552.5 164.5h3V166.5h-3zM559.5 164.5h3V166.5h-3zM570.5 181.5h2V183.5h-2zM573.5 175.5h3V179.5h-3zM581.5 168.5h2V175.5h-2zM584.5 160.5h3V167.5h-3zM588.5 150.5h2V159.5h-2zM598.5 144.5h3V154.5h-3zM616.5 148.5h3V150.5h-3zM620.5 141.5h3V145.5h-3zM627.5 147.5h3V160.5h-3zM631.5 139.5h2V145.5h-2zM645.5 162.5h3V176.5h-3zM649.5 141.5h2V160.5h-2zM659.5 134.5h3V140.5h-3zM666.5 127.5h3V136.5h-3zM670.5 118.5h3V123.5h-3zM677.5 111.5h3V117.5h-3zM684.5 108.5h3V112.5h-3zM692.5 106.5h2V108.5h-2zM695.5 99.5h3V105.5h-3zM702.5 89.5h3V97.5h-3zM713.5 97.5h3V99.5h-3zM717.5 82.5h2V95.5h-2zM731.5 73.5h3V78.5h-3zM745.5 63.5h3V76.5h-3zM749.5 62.5h2V64.5h-2zM760.5 83.5h2V88.5h-2zM763.5 68.5h3V78.5h-3zM770.5 63.5h3V71.5h-3zM781.5 94.5h3V96.5h-3zM788.5 132.5h3V135.5h-3zM792.5 105.5h2V137.5h-2zM795.5 91.5h3V105.5h-3zM810.5 88.5h2V90.5h-2zM813.5 77.5h3V87.5h-3zM817.5 74.5h2V77.5h-2zM831.5 115.5h3V123.5h-3zM842.5 122.5h3V133.5h-3zM846.5 114.5h2V119.5h-2zM874.5 146.5h3V176.5h-3zM878.5 128.5h2V145.5h-2zM881.5 121.5h3V126.5h-3zM888.5 118.5h3V127.5h-3zM903.5 107.5h2V120.5h-2zM914.5 114.5h2V119.5h-2zM921.5 110.5h2V125.5h-2zM924.5 103.5h3V108.5h-3zM931.5 85.5h3V101.5h-3z" stroke="#000" stroke-width="1" fill="none" shape-rendering="crispEdges"/>
</g>
<g clip-path="url(#c2)">
<path d="M40.0 644.5C41.8 645.4 45.4 647.5 50.5 650.0C55.6 652.5 62.3 655.1 70.7 659.7C79.1 664.3 92.0 672.6 101.0 677.8C110.0 683.0 116.8 686.6 125.0 691.0C133.2 695.4 142.4 700.2 150.0 704.4C157.6 708.6 165.2 713.4 170.5 716.0C175.8 718.6 175.8 718.1 181.5 720.1C187.2 722.1 197.5 725.5 204.8 727.7C212.1 729.9 218.9 731.4 225.3 733.2C231.7 735.0 237.5 737.1 243.2 738.4C248.9 739.6 254.7 740.2 259.6 740.7C264.5 741.2 267.1 741.4 272.7 741.2C278.3 741.0 286.3 740.7 293.0 739.4C299.7 738.1 304.6 735.4 313.0 733.3C321.4 731.2 332.4 728.9 343.4 726.8C354.4 724.7 368.7 722.4 378.8 720.7C388.9 719.0 393.9 718.4 404.0 716.7C414.1 715.0 427.6 713.2 439.4 710.6C451.2 708.0 466.3 702.7 474.7 700.8C483.1 698.9 479.0 700.6 490.0 699.0C501.0 697.4 523.7 694.4 540.5 691.4C557.3 688.4 574.2 685.2 591.0 681.3C607.8 677.3 628.5 671.2 641.5 667.7C654.5 664.2 660.9 662.5 669.3 660.0C677.7 657.5 679.8 657.2 692.0 652.5C704.2 647.8 725.7 638.3 742.5 631.9C759.3 625.5 777.6 619.5 793.0 614.2C808.4 608.9 825.5 603.4 835.0 600.1C844.5 596.8 844.8 596.1 849.8 594.2C854.8 592.4 859.8 590.9 864.7 589.0C869.7 587.1 874.6 584.7 879.5 583.1C884.4 581.5 889.3 580.5 894.3 579.4C899.2 578.3 904.2 577.4 909.2 576.4C914.2 575.4 918.8 574.5 924.0 573.4C929.2 572.3 937.6 570.6 940.3 570.0" stroke="#10108a" stroke-width="1.2" fill="none"/>
<path d="M41.5 763V772M45.5 767V788M48.5 776V788M52.5 783V804M56.5 796V803M56.5 805V811M59.5 801V803M59.5 808V808M63.5 792V798M66.5 797V810M70.5 799V808M74.5 810V820M77.5 812V816M77.5 827V828M81.5 804V805M81.5 810V813M84.5 795V812M88.5 805V806M88.5 809V813M91.5 793V793M91.5 804V805M95.5 788V799M99.5 795V797M99.5 799V803M102.5 795V804M106.5 795V805M109.5 802V803M109.5 813V816M113.5 804V813M116.5 808V821M120.5 811V815M120.5 817V819M124.5 815V822M127.5 809V810M127.5 823V825M131.5 803V813M134.5 815V826M138.5 825V830M142.5 837V848M145.5 835V836M145.5 852V853M149.5 832V833M149.5 838V841M152.5 815V819M152.5 827V833M156.5 812V822M159.5 810V818M159.5 821V828M163.5 811V823M167.5 813V827M170.5 757V764M170.5 777V778M174.5 751V752M174.5 755V765M177.5 747V758M181.5 757V775M184.5 753V755M184.5 768V769M188.5 725V727M188.5 735V742M192.5 722V724M192.5 735V741M195.5 717V736M199.5 728V730M199.5 741V743M202.5 728V735M206.5 697V697M206.5 721V721M210.5 671V674M210.5 680V685M213.5 677V687M217.5 684V694M220.5 696V723M224.5 704V719M227.5 695V703M227.5 718V719M231.5 691V698M231.5 700V704M235.5 668V668M235.5 687V687M238.5 674V687M242.5 673V680M242.5 687V688M245.5 665V684M249.5 652V660M249.5 675V676M253.5 661V672M256.5 657V685M260.5 671V674M260.5 679V685M263.5 672V680M267.5 673V682M270.5 677V690M274.5 693V698M274.5 708V709M278.5 698V707M281.5 684V689M281.5 698V699M285.5 690V698M288.5 683V696M292.5 689V698M295.5 685V687M295.5 696V697M299.5 687V695M303.5 683V699M306.5 656V667M306.5 688V688M310.5 647V654M310.5 656V664M313.5 639V643M313.5 651V653M317.5 638V651M321.5 640V641M321.5 661V662M324.5 622V623M324.5 635V639M328.5 623V635M331.5 610V616M331.5 628V629M335.5 627V643M338.5 623V627M338.5 632V634M342.5 621V630M346.5 626V648M349.5 642V643M349.5 656V659M353.5 643V660M356.5 638V660M360.5 651V676M363.5 654V662M363.5 665V668M367.5 661V682M371.5 673V678M371.5 681V687M374.5 663V673M374.5 677V678M378.5 650V651M378.5 673V674M381.5 647V648M381.5 652V660M385.5 638V645M385.5 647V648M389.5 620V622M389.5 645V646M392.5 622V635M396.5 620V621M396.5 631V632M399.5 621V639M403.5 618V620M403.5 628V633M406.5 596V603M406.5 619V620M410.5 593V597M410.5 604V608M414.5 596V612M417.5 597V599M417.5 609V610M421.5 571V579M421.5 599V600M424.5 563V565M424.5 580V594M428.5 543V546M428.5 566V567M432.5 541V564M435.5 559V594M439.5 557V564M439.5 577V577M442.5 558V571M446.5 543V556M446.5 570V570M449.5 528V539M449.5 556V557M453.5 511V514M453.5 539V540M457.5 506V524M460.5 511V533M464.5 512V515M464.5 531V532M467.5 498V508M467.5 514V515M471.5 503V514M474.5 508V523M478.5 513V536M482.5 525V527M482.5 531V541M485.5 526V563M489.5 547V555M489.5 560V568M492.5 555V564M496.5 562V583M500.5 552V562M500.5 578V578M503.5 559V584M507.5 545V546M507.5 561V562M510.5 546V562M514.5 550V562M517.5 555V563M521.5 541V542M521.5 562V562M525.5 541V564M528.5 545V562M532.5 554V557M532.5 559V562M535.5 556V572M539.5 559V572M542.5 558V576M546.5 569V578M550.5 547V555M550.5 573V574M553.5 554V564M557.5 555V568M560.5 558V572M564.5 566V592M568.5 576V578M568.5 586V595M571.5 577V589M575.5 578V579M575.5 587V588M578.5 571V575M578.5 579V581M582.5 564V566M582.5 575V576M585.5 541V544M585.5 566V567M589.5 529V540M589.5 544V545M593.5 539V556M596.5 535V536M596.5 554V555M600.5 530V547M603.5 515V518M603.5 540V541M607.5 515V516M607.5 518V532M611.5 502V502M611.5 516V525M614.5 486V505M618.5 504V527M621.5 497V518M621.5 520V521M625.5 514V538M628.5 503V505M628.5 529V529M632.5 493V494M632.5 505V510M636.5 490V509M639.5 505V532M643.5 522V533M646.5 514V526M650.5 515V516M650.5 525V527M653.5 515V531M657.5 519V521M657.5 530V531M661.5 514V518M661.5 521V522M664.5 513V517M664.5 518V520M668.5 488V489M668.5 517V517M671.5 473V478M671.5 489V493M675.5 473V486M679.5 471V474M679.5 478V484M682.5 470V477M686.5 467V468M686.5 475V488M689.5 463V476M693.5 460V482M696.5 467V477M700.5 464V474M700.5 475V479M704.5 461V462M704.5 474V475M707.5 460V474M711.5 465V502M714.5 491V512M718.5 479V480M718.5 511V512M721.5 474V478M721.5 480V491M725.5 459V475M725.5 477V478M729.5 464V465M729.5 475V476M732.5 458V459M732.5 465V466M736.5 458V489M739.5 480V491M743.5 478V481M743.5 489V490M747.5 461V466M747.5 481V482M750.5 465V477M754.5 468V496M757.5 490V515M761.5 508V525M764.5 502V503M764.5 515V516M768.5 499V515M772.5 503V513M775.5 499V532M779.5 529V544M782.5 537V562M786.5 559V593M790.5 572V578M790.5 585V592M793.5 551V556M793.5 578V579M797.5 556V568M800.5 561V572M804.5 548V552M804.5 566V567M807.5 551V565M811.5 544V550M811.5 558V561M815.5 538V545M815.5 549V550M818.5 544V559M822.5 539V562M825.5 544V566M829.5 544V568M832.5 549V557M832.5 567V568M836.5 546V557M840.5 552V566M843.5 550V553M843.5 561V562M847.5 546V547M847.5 552V559M850.5 545V556M854.5 547V559M858.5 558V576M861.5 569V584M865.5 575V593M868.5 591V617M872.5 604V614M875.5 583V584M875.5 608V608M879.5 571V573M879.5 584V588M883.5 565V568M883.5 573V579M886.5 567V579M890.5 556V560M890.5 578V578M893.5 555V567M897.5 562V572M900.5 567V580M904.5 555V563M904.5 577V578M908.5 559V570M911.5 558V570M915.5 562V578M918.5 568V585M922.5 567V579M926.5 556V558M926.5 578V579M929.5 550V570M933.5 541V542M933.5 569V569M936.5 542V553M940.5 544V556" stroke="#000" stroke-width="1" fill="none" shape-rendering="crispEdges"/><path d="M40 766h4V767h-4zM44 781h3V784h-3zM47 782h4V785h-4zM51 785h3V804h-3zM54 803h4V805h-4zM61 795h4V796h-4zM65 798h4V805h-4zM69 803h3V806h-3zM72 811h4V818h-4zM83 797h4V810h-4zM94 790h3V798h-3zM97 797h4V799h-4zM101 798h3V803h-3zM104 803h4V804h-4zM112 804h3V811h-3zM115 809h4V820h-4zM119 815h3V817h-3zM122 817h4V821h-4zM130 806h3V808h-3zM133 815h4V824h-4zM137 826h3V830h-3zM140 841h4V847h-4zM155 813h3V819h-3zM162 818h3V819h-3zM165 818h4V826h-4zM176 747h4V754h-4zM180 763h3V773h-3zM194 722h4V735h-4zM201 729h4V730h-4zM212 680h3V685h-3zM215 688h4V690h-4zM219 697h4V722h-4zM223 706h3V717h-3zM230 698h3V700h-3zM237 676h3V682h-3zM244 672h4V676h-4zM251 661h4V665h-4zM255 659h3V684h-3zM262 674h4V677h-4zM266 674h3V680h-3zM269 680h4V687h-4zM276 699h4V706h-4zM283 691h4V693h-4zM287 690h4V695h-4zM291 691h3V696h-3zM298 689h3V694h-3zM301 687h4V692h-4zM308 654h4V656h-4zM316 638h3V647h-3zM326 623h4V632h-4zM334 627h3V640h-3zM341 622h3V624h-3zM344 627h4V642h-4zM351 643h4V650h-4zM355 650h4V660h-4zM359 660h3V665h-3zM366 661h3V682h-3zM384 645h3V647h-3zM391 622h3V630h-3zM398 621h4V628h-4zM412 597h4V610h-4zM430 546h4V561h-4zM434 561h3V577h-3zM441 564h4V570h-4zM455 515h4V516h-4zM459 515h3V531h-3zM470 508h3V509h-3zM473 508h4V513h-4zM477 513h3V531h-3zM484 526h4V561h-4zM491 555h4V563h-4zM495 563h3V578h-3zM502 561h3V562h-3zM509 546h4V553h-4zM513 553h3V556h-3zM516 556h4V562h-4zM523 541h4V559h-4zM527 559h3V560h-3zM530 557h4V559h-4zM534 556h4V566h-4zM538 566h3V569h-3zM541 568h4V575h-4zM545 574h3V575h-3zM552 555h4V562h-4zM556 562h3V566h-3zM559 566h4V567h-4zM563 566h3V585h-3zM570 578h3V587h-3zM591 539h4V555h-4zM598 536h4V540h-4zM606 516h3V518h-3zM613 502h3V504h-3zM616 504h4V520h-4zM620 518h4V520h-4zM624 517h3V529h-3zM634 493h4V506h-4zM638 506h3V523h-3zM641 522h4V525h-4zM645 524h4V525h-4zM652 516h4V529h-4zM663 517h3V518h-3zM674 478h3V479h-3zM681 474h3V476h-3zM688 468h4V475h-4zM692 475h3V476h-3zM695 475h4V476h-4zM699 474h3V475h-3zM706 461h3V468h-3zM709 468h4V491h-4zM713 491h4V511h-4zM720 478h4V480h-4zM724 475h3V477h-3zM735 459h3V487h-3zM738 486h4V490h-4zM749 466h3V467h-3zM752 469h4V495h-4zM756 494h4V509h-4zM760 509h3V515h-3zM767 503h3V504h-3zM770 504h4V508h-4zM774 508h3V531h-3zM777 530h4V543h-4zM781 542h4V561h-4zM785 560h3V586h-3zM795 556h4V563h-4zM799 562h4V567h-4zM806 552h4V558h-4zM817 545h3V555h-3zM820 555h4V561h-4zM824 544h4V561h-4zM828 544h3V568h-3zM835 552h3V556h-3zM838 553h4V561h-4zM849 547h4V548h-4zM853 548h3V559h-3zM856 558h4V573h-4zM860 572h3V579h-3zM863 579h4V592h-4zM867 592h4V608h-4zM871 606h3V608h-3zM885 568h3V578h-3zM892 560h4V565h-4zM896 565h3V568h-3zM899 567h4V578h-4zM906 562h4V565h-4zM910 565h4V567h-4zM914 566h3V577h-3zM917 577h4V578h-4zM921 577h3V578h-3zM928 558h3V569h-3zM935 542h4V550h-4zM939 549h3V553h-3z" fill="#000" shape-rendering="crispEdges"/><path d="M58.5 803.5h2V807.5h-2zM76.5 816.5h2V826.5h-2zM79.5 805.5h3V809.5h-3zM87.5 806.5h2V808.5h-2zM90.5 793.5h3V803.5h-3zM108.5 803.5h3V812.5h-3zM126.5 810.5h3V822.5h-3zM144.5 836.5h2V851.5h-2zM147.5 833.5h3V837.5h-3zM151.5 819.5h3V826.5h-3zM158.5 818.5h3V820.5h-3zM169.5 764.5h2V776.5h-2zM172.5 752.5h3V754.5h-3zM183.5 755.5h3V767.5h-3zM187.5 727.5h2V734.5h-2zM190.5 724.5h3V734.5h-3zM198.5 730.5h2V740.5h-2zM205.5 697.5h2V720.5h-2zM208.5 674.5h3V679.5h-3zM226.5 703.5h3V717.5h-3zM233.5 668.5h3V686.5h-3zM240.5 680.5h3V686.5h-3zM248.5 660.5h2V674.5h-2zM258.5 674.5h3V678.5h-3zM273.5 698.5h2V707.5h-2zM280.5 689.5h2V697.5h-2zM294.5 687.5h3V695.5h-3zM305.5 667.5h2V687.5h-2zM312.5 643.5h3V650.5h-3zM319.5 641.5h3V660.5h-3zM323.5 623.5h2V634.5h-2zM330.5 616.5h3V627.5h-3zM337.5 627.5h3V631.5h-3zM348.5 643.5h2V655.5h-2zM362.5 662.5h3V664.5h-3zM369.5 678.5h3V680.5h-3zM373.5 673.5h3V676.5h-3zM377.5 651.5h2V672.5h-2zM380.5 648.5h3V651.5h-3zM387.5 622.5h3V644.5h-3zM394.5 621.5h3V630.5h-3zM402.5 620.5h2V627.5h-2zM405.5 603.5h3V618.5h-3zM409.5 597.5h2V603.5h-2zM416.5 599.5h2V608.5h-2zM419.5 579.5h3V598.5h-3zM423.5 565.5h3V579.5h-3zM427.5 546.5h2V565.5h-2zM437.5 564.5h3V576.5h-3zM445.5 556.5h2V569.5h-2zM448.5 539.5h3V555.5h-3zM452.5 514.5h2V538.5h-2zM462.5 515.5h3V530.5h-3zM466.5 508.5h3V513.5h-3zM480.5 527.5h3V530.5h-3zM488.5 555.5h2V559.5h-2zM498.5 562.5h3V577.5h-3zM505.5 546.5h3V560.5h-3zM520.5 542.5h2V561.5h-2zM548.5 555.5h3V572.5h-3zM566.5 578.5h3V585.5h-3zM573.5 579.5h3V586.5h-3zM577.5 575.5h3V578.5h-3zM581.5 566.5h2V574.5h-2zM584.5 544.5h3V565.5h-3zM588.5 540.5h2V543.5h-2zM595.5 536.5h2V553.5h-2zM602.5 518.5h3V539.5h-3zM609.5 502.5h3V515.5h-3zM627.5 505.5h3V528.5h-3zM631.5 494.5h2V504.5h-2zM649.5 516.5h2V524.5h-2zM656.5 521.5h2V529.5h-2zM659.5 518.5h3V520.5h-3zM666.5 489.5h3V516.5h-3zM670.5 478.5h3V488.5h-3zM677.5 474.5h3V477.5h-3zM684.5 468.5h3V474.5h-3zM702.5 462.5h3V473.5h-3zM717.5 480.5h2V510.5h-2zM727.5 465.5h3V474.5h-3zM731.5 459.5h3V464.5h-3zM742.5 481.5h2V488.5h-2zM745.5 466.5h3V480.5h-3zM763.5 503.5h3V514.5h-3zM788.5 578.5h3V584.5h-3zM792.5 556.5h2V577.5h-2zM803.5 552.5h2V565.5h-2zM810.5 550.5h2V557.5h-2zM813.5 545.5h3V548.5h-3zM831.5 557.5h3V566.5h-3zM842.5 553.5h3V560.5h-3zM846.5 547.5h2V551.5h-2zM874.5 584.5h3V607.5h-3zM878.5 573.5h2V583.5h-2zM881.5 568.5h3V572.5h-3zM888.5 560.5h3V577.5h-3zM903.5 563.5h2V576.5h-2zM924.5 558.5h3V577.5h-3zM931.5 542.5h3V568.5h-3z" stroke="#000" stroke-width="1" fill="none" shape-rendering="crispEdges"/>
</g>
<path d="M40.5 437.5V28.5H946.5" stroke="#8caab0" fill="none"/><path d="M946.0 28.0V437.5" stroke="#8fb4bc" fill="none"/>
<path d="M40.5 860.0V451.5H946.5" stroke="#8caab0" fill="none"/><path d="M946.0 451.0V860.0M40.0 859.5H946.5" stroke="#8fb4bc" fill="none"/>
<text class="ax" x="950" y="431.0">32.5</text>
<text class="ax" x="950" y="409.6">35.0</text>
<text class="ax" x="950" y="388.2">37.5</text>
<text class="ax" x="950" y="366.8">40.0</text>
<text class="ax" x="950" y="345.4">42.5</text>
<text class="ax" x="950" y="324.1">45.0</text>
<text class="ax" x="950" y="302.7">47.5</text>
<text class="ax" x="950" y="281.3">50.0</text>
<text class="ax" x="950" y="259.9">52.5</text>
<text class="ax" x="950" y="238.6">55.0</text>
<text class="ax" x="950" y="217.2">57.5</text>
<text class="ax" x="950" y="195.8">60.0</text>
<text class="ax" x="950" y="174.4">62.5</text>
<text class="ax" x="950" y="153.1">65.0</text>
<text class="ax" x="950" y="131.7">67.5</text>
<text class="ax" x="950" y="110.3">70.0</text>
<text class="ax" x="950" y="89.0">72.5</text>
<text class="ax" x="950" y="67.6">75.0</text>
<text class="ax" x="950" y="46.2">77.5</text>
<text class="ax" x="973.5" y="858.1" text-anchor="end">525</text>
<text class="ax" x="973.5" y="842.9" text-anchor="end">550</text>
<text class="ax" x="973.5" y="827.6" text-anchor="end">575</text>
<text class="ax" x="973.5" y="812.4" text-anchor="end">600</text>
<text class="ax" x="973.5" y="797.2" text-anchor="end">625</text>
<text class="ax" x="973.5" y="781.9" text-anchor="end">650</text>
<text class="ax" x="973.5" y="766.7" text-anchor="end">675</text>
<text class="ax" x="973.5" y="751.5" text-anchor="end">700</text>
<text class="ax" x="973.5" y="736.2" text-anchor="end">725</text>
<text class="ax" x="973.5" y="721.0" text-anchor="end">750</text>
<text class="ax" x="973.5" y="705.8" text-anchor="end">775</text>
<text class="ax" x="973.5" y="690.5" text-anchor="end">800</text>
<text class="ax" x="973.5" y="675.3" text-anchor="end">825</text>
<text class="ax" x="973.5" y="660.1" text-anchor="end">850</text>
<text class="ax" x="973.5" y="644.9" text-anchor="end">875</text>
<text class="ax" x="973.5" y="629.6" text-anchor="end">900</text>
<text class="ax" x="973.5" y="614.4" text-anchor="end">925</text>
<text class="ax" x="973.5" y="599.2" text-anchor="end">950</text>
<text class="ax" x="973.5" y="583.9" text-anchor="end">975</text>
<text class="ax" x="973.5" y="568.7" text-anchor="end">1000</text>
<text class="ax" x="973.5" y="553.5" text-anchor="end">1025</text>
<text class="ax" x="973.5" y="538.2" text-anchor="end">1050</text>
<text class="ax" x="973.5" y="523.0" text-anchor="end">1075</text>
<text class="ax" x="973.5" y="507.8" text-anchor="end">1100</text>
<text class="ax" x="973.5" y="492.6" text-anchor="end">1125</text>
<text class="ax" x="973.5" y="477.3" text-anchor="end">1150</text>
<text class="ax" x="973.5" y="462.1" text-anchor="end">1175</text>
<text class="ax" x="37.3" y="424.2" text-anchor="end" style="letter-spacing:0.9px">10M</text>
<text class="ax" x="37.3" y="408.4" text-anchor="end" style="letter-spacing:0.9px">20M</text>
<text class="ax" x="37.3" y="392.5" text-anchor="end" style="letter-spacing:0.9px">30M</text>
<text class="ax" x="37.3" y="376.7" text-anchor="end" style="letter-spacing:0.9px">40M</text>
<text class="ax" x="37.3" y="360.8" text-anchor="end" style="letter-spacing:0.9px">50M</text>
<text class="ax" x="37.3" y="344.9" text-anchor="end" style="letter-spacing:0.9px">60M</text>
<text class="ax" x="37.3" y="329.1" text-anchor="end" style="letter-spacing:0.9px">70M</text>
<text class="ax" x="37.3" y="313.2" text-anchor="end" style="letter-spacing:0.9px">80M</text>
<text class="mo" x="75.0" y="447.7">Oct</text>
<text class="mo" x="75.0" y="870.9">Oct</text>
<text class="mo" x="153.8" y="447.7">Nov</text>
<text class="mo" x="153.8" y="870.9">Nov</text>
<text class="mo" x="225.4" y="447.7">Dec</text>
<text class="mo" x="225.4" y="870.9">Dec</text>
<text class="mo" x="304.1" y="447.7" font-weight="bold" font-size="12.5">2021</text>
<text class="mo" x="304.1" y="870.9" font-weight="bold" font-size="12.5">2021</text>
<text class="mo" x="372.2" y="447.7">Feb</text>
<text class="mo" x="372.2" y="870.9">Feb</text>
<text class="mo" x="440.2" y="447.7">Mar</text>
<text class="mo" x="440.2" y="870.9">Mar</text>
<text class="mo" x="522.5" y="447.7">Apr</text>
<text class="mo" x="522.5" y="870.9">Apr</text>
<text class="mo" x="597.7" y="447.7">May</text>
<text class="mo" x="597.7" y="870.9">May</text>
<text class="mo" x="669.3" y="447.7">Jun</text>
<text class="mo" x="669.3" y="870.9">Jun</text>
<text class="mo" x="748.1" y="447.7">Jul</text>
<text class="mo" x="748.1" y="870.9">Jul</text>
<text class="mo" x="823.2" y="447.7">Aug</text>
<text class="mo" x="823.2" y="870.9">Aug</text>
<text class="mo" x="902.0" y="447.7">Sep</text>
<text class="mo" x="902.0" y="870.9">Sep</text>
<text x="40" y="13.3" font-size="13" font-weight="bold" textLength="40" lengthAdjust="spacingAndGlyphs">$WTIC</text>
<text x="85" y="13.3" font-size="10.8" textLength="209" lengthAdjust="spacingAndGlyphs">Light Crude Oil - Continuous Contract (EOD)</text>
<text x="299" y="13.3" font-size="8.5" textLength="22" lengthAdjust="spacingAndGlyphs">CME</text>
<text x="40.5" y="26.3" font-size="10.5" textLength="59.5" lengthAdjust="spacingAndGlyphs">17-Sep-2021</text>
<text x="946.5" y="13" font-size="10.5" text-anchor="end" textLength="90" lengthAdjust="spacingAndGlyphs" style="fill:#555;font-family:'DejaVu Sans',sans-serif">© StockCharts.com</text>
<text x="509.6" y="26.3" font-size="10.6" textLength="426" lengthAdjust="spacing"><tspan font-weight="bold">Open</tspan> 72.33 <tspan font-weight="bold" dx="2">High</tspan> 72.50 <tspan font-weight="bold" dx="2">Low</tspan> 71.03 <tspan font-weight="bold" dx="2">Close</tspan> 71.82 <tspan font-weight="bold" dx="2">Volume</tspan> 27.6M <tspan font-weight="bold" dx="2">Chg</tspan> -0.79 (-1.09%)</text>
<path d="M939 19.5h7l-3.5 4.5z" fill="#8b1a3a"/>
<path d="M45 874.5h1M63 874.5h1M81 874.5h1M99 874.5h1M116 874.5h1M134 874.5h1M152 874.5h1M170 874.5h1M188 874.5h1M206 874.5h1M220 874.5h1M238 874.5h1M256 874.5h1M274 874.5h1M288 874.5h1M303 874.5h1M321 874.5h1M338 874.5h1M353 874.5h1M371 874.5h1M389 874.5h1M406 874.5h1M421 874.5h1M439 874.5h1M457 874.5h1M474 874.5h1M492 874.5h1M510 874.5h1M525 874.5h1M542 874.5h1M560 874.5h1M578 874.5h1M596 874.5h1M614 874.5h1M632 874.5h1M650 874.5h1M668 874.5h1M682 874.5h1M700 874.5h1M718 874.5h1M736 874.5h1M754 874.5h1M768 874.5h1M786 874.5h1M804 874.5h1M822 874.5h1M840 874.5h1M858 874.5h1M875 874.5h1M893 874.5h1M911 874.5h1M926 874.5h1M74 874.5h1M152 874.5h1M224 874.5h1M303 874.5h1M371 874.5h1M439 874.5h1M521 874.5h1M596 874.5h1M668 874.5h1M747 874.5h1M822 874.5h1M900 874.5h1" stroke="#c8d4d4" stroke-width="1" fill="none"/>
<path d="M410.4 204.0C411.8 204.8 415.3 207.1 419.1 209.1C422.9 211.1 428.6 213.9 433.3 216.2C438.0 218.4 442.7 220.7 447.4 222.6C452.1 224.5 456.9 226.0 461.6 227.5C466.3 229.0 471.0 230.6 475.7 231.8C480.4 233.1 485.2 234.1 489.9 235.0C494.6 235.9 499.3 236.7 504.0 237.4C508.7 238.1 513.5 238.7 518.2 239.2C522.9 239.7 528.2 240.1 532.3 240.4C536.4 240.7 539.4 241.1 543.0 240.9C546.6 240.7 549.9 240.1 554.1 239.4C558.3 238.7 563.6 237.6 568.3 236.6C573.0 235.6 577.7 234.7 582.4 233.5C587.1 232.3 591.9 231.0 596.6 229.5C601.3 228.0 606.0 226.5 610.7 224.6C615.4 222.7 620.2 220.6 624.9 218.2C629.6 215.8 634.3 213.0 639.0 210.4C643.7 207.8 648.5 205.4 653.2 202.6C657.9 199.8 663.6 195.9 667.3 193.4C671.0 190.9 674.0 188.6 675.3 187.6" stroke="#ff0000" stroke-width="3.4" fill="none"/>
<path d="M457.6 571.5C459.0 573.2 463.2 578.3 466.0 581.5C468.8 584.7 471.4 587.6 474.1 590.5C476.8 593.4 479.4 596.3 482.0 599.0C484.6 601.7 487.0 604.2 490.0 606.8C493.0 609.4 496.6 612.4 500.0 614.7C503.4 617.0 506.7 619.0 510.1 620.8C513.5 622.6 516.8 624.1 520.2 625.3C523.6 626.5 526.9 627.4 530.3 628.1C533.7 628.8 537.4 629.1 540.4 629.4C543.4 629.7 545.1 629.9 548.5 629.8C551.9 629.7 556.9 629.4 560.6 628.8C564.3 628.2 567.3 627.3 570.7 626.3C574.1 625.3 577.4 624.2 580.8 622.8C584.2 621.4 587.7 619.5 590.9 617.7C594.1 615.9 595.9 615.1 600.0 612.2C604.1 609.3 610.5 604.8 615.5 600.5C620.5 596.2 625.1 591.3 630.0 586.2C634.9 581.1 639.5 575.9 644.7 570.0C649.9 564.1 658.3 553.9 661.0 550.7" stroke="#ff0000" stroke-width="3.4" fill="none"/>
<text x="127.3" y="792.5" font-size="13.5" font-weight="bold" textLength="106" lengthAdjust="spacingAndGlyphs" style="fill:#ff0000">Breakaway Gap</text>
<path d="M947 428.5h3M947 424.5h1.5M947 420.5h1.5M947 415.5h1.5M947 411.5h1.5M947 407.5h3M947 403.5h1.5M947 398.5h1.5M947 394.5h1.5M947 390.5h1.5M947 386.5h3M947 381.5h1.5M947 377.5h1.5M947 373.5h1.5M947 368.5h1.5M947 364.5h3M947 360.5h1.5M947 356.5h1.5M947 351.5h1.5M947 347.5h1.5M947 343.5h3M947 338.5h1.5M947 334.5h1.5M947 330.5h1.5M947 326.5h1.5M947 321.5h3M947 317.5h1.5M947 313.5h1.5M947 309.5h1.5M947 304.5h1.5M947 300.5h3M947 296.5h1.5M947 291.5h1.5M947 287.5h1.5M947 283.5h1.5M947 279.5h3M947 274.5h1.5M947 270.5h1.5M947 266.5h1.5M947 262.5h1.5M947 257.5h3M947 253.5h1.5M947 249.5h1.5M947 244.5h1.5M947 240.5h1.5M947 236.5h3M947 232.5h1.5M947 227.5h1.5M947 223.5h1.5M947 219.5h1.5M947 214.5h3M947 210.5h1.5M947 206.5h1.5M947 202.5h1.5M947 197.5h1.5M947 193.5h3M947 189.5h1.5M947 185.5h1.5M947 180.5h1.5M947 176.5h1.5M947 172.5h3M947 167.5h1.5M947 163.5h1.5M947 159.5h1.5M947 155.5h1.5M947 150.5h3M947 146.5h1.5M947 142.5h1.5M947 138.5h1.5M947 133.5h1.5M947 129.5h3M947 125.5h1.5M947 120.5h1.5M947 116.5h1.5M947 112.5h1.5M947 108.5h3M947 103.5h1.5M947 99.5h1.5M947 95.5h1.5M947 91.5h1.5M947 86.5h3M947 82.5h1.5M947 78.5h1.5M947 73.5h1.5M947 69.5h1.5M947 65.5h3M947 61.5h1.5M947 56.5h1.5M947 52.5h1.5M947 48.5h1.5M947 44.5h3M947 855.5h3M947 840.5h3M947 825.5h3M947 810.5h3M947 794.5h3M947 779.5h3M947 764.5h3M947 749.5h3M947 734.5h3M947 718.5h3M947 703.5h3M947 688.5h3M947 673.5h3M947 657.5h3M947 642.5h3M947 627.5h3M947 612.5h3M947 596.5h3M947 581.5h3M947 566.5h3M947 551.5h3M947 536.5h3M947 520.5h3M947 505.5h3M947 490.5h3M947 475.5h3M947 459.5h3M37.5 421.5h2.5M37.5 405.5h2.5M37.5 389.5h2.5M37.5 373.5h2.5M37.5 357.5h2.5M37.5 342.5h2.5M37.5 326.5h2.5M37.5 310.5h2.5" stroke="#8fb4bc" stroke-width="1" fill="none"/>
<path d="M41.5 437.5v1.5M41.5 860v1.5M41.5 449.5v1.5M45.5 437.5v1.5M45.5 860v1.5M45.5 449.5v1.5M48.5 437.5v1.5M48.5 860v1.5M48.5 449.5v1.5M52.5 437.5v1.5M52.5 860v1.5M52.5 449.5v1.5M56.5 437.5v1.5M56.5 860v1.5M56.5 449.5v1.5M59.5 437.5v1.5M59.5 860v1.5M59.5 449.5v1.5M63.5 437.5v1.5M63.5 860v1.5M63.5 449.5v1.5M66.5 437.5v1.5M66.5 860v1.5M66.5 449.5v1.5M70.5 437.5v1.5M70.5 860v1.5M70.5 449.5v1.5M74.5 437.5v1.5M74.5 860v1.5M74.5 449.5v1.5M77.5 437.5v1.5M77.5 860v1.5M77.5 449.5v1.5M81.5 437.5v1.5M81.5 860v1.5M81.5 449.5v1.5M84.5 437.5v1.5M84.5 860v1.5M84.5 449.5v1.5M88.5 437.5v1.5M88.5 860v1.5M88.5 449.5v1.5M91.5 437.5v1.5M91.5 860v1.5M91.5 449.5v1.5M95.5 437.5v1.5M95.5 860v1.5M95.5 449.5v1.5M99.5 437.5v1.5M99.5 860v1.5M99.5 449.5v1.5M102.5 437.5v1.5M102.5 860v1.5M102.5 449.5v1.5M106.5 437.5v1.5M106.5 860v1.5M106.5 449.5v1.5M109.5 437.5v1.5M109.5 860v1.5M109.5 449.5v1.5M113.5 437.5v1.5M113.5 860v1.5M113.5 449.5v1.5M116.5 437.5v1.5M116.5 860v1.5M116.5 449.5v1.5M120.5 437.5v1.5M120.5 860v1.5M120.5 449.5v1.5M124.5 437.5v1.5M124.5 860v1.5M124.5 449.5v1.5M127.5 437.5v1.5M127.5 860v1.5M127.5 449.5v1.5M131.5 437.5v1.5M131.5 860v1.5M131.5 449.5v1.5M134.5 437.5v1.5M134.5 860v1.5M134.5 449.5v1.5M138.5 437.5v1.5M138.5 860v1.5M138.5 449.5v1.5M142.5 437.5v1.5M142.5 860v1.5M142.5 449.5v1.5M145.5 437.5v1.5M145.5 860v1.5M145.5 449.5v1.5M149.5 437.5v1.5M149.5 860v1.5M149.5 449.5v1.5M152.5 437.5v1.5M152.5 860v1.5M152.5 449.5v1.5M156.5 437.5v1.5M156.5 860v1.5M156.5 449.5v1.5M159.5 437.5v1.5M159.5 860v1.5M159.5 449.5v1.5M163.5 437.5v1.5M163.5 860v1.5M163.5 449.5v1.5M167.5 437.5v1.5M167.5 860v1.5M167.5 449.5v1.5M170.5 437.5v1.5M170.5 860v1.5M170.5 449.5v1.5M174.5 437.5v1.5M174.5 860v1.5M174.5 449.5v1.5M177.5 437.5v1.5M177.5 860v1.5M177.5 449.5v1.5M181.5 437.5v1.5M181.5 860v1.5M181.5 449.5v1.5M184.5 437.5v1.5M184.5 860v1.5M184.5 449.5v1.5M188.5 437.5v1.5M188.5 860v1.5M188.5 449.5v1.5M192.5 437.5v1.5M192.5 860v1.5M192.5 449.5v1.5M195.5 437.5v1.5M195.5 860v1.5M195.5 449.5v1.5M199.5 437.5v1.5M199.5 860v1.5M199.5 449.5v1.5M202.5 437.5v1.5M202.5 860v1.5M202.5 449.5v1.5M206.5 437.5v1.5M206.5 860v1.5M206.5 449.5v1.5M210.5 437.5v1.5M210.5 860v1.5M210.5 449.5v1.5M213.5 437.5v1.5M213.5 860v1.5M213.5 449.5v1.5M217.5 437.5v1.5M217.5 860v1.5M217.5 449.5v1.5M220.5 437.5v1.5M220.5 860v1.5M220.5 449.5v1.5M224.5 437.5v1.5M224.5 860v1.5M224.5 449.5v1.5M227.5 437.5v1.5M227.5 860v1.5M227.5 449.5v1.5M231.5 437.5v1.5M231.5 860v1.5M231.5 449.5v1.5M235.5 437.5v1.5M235.5 860v1.5M235.5 449.5v1.5M238.5 437.5v1.5M238.5 860v1.5M238.5 449.5v1.5M242.5 437.5v1.5M242.5 860v1.5M242.5 449.5v1.5M245.5 437.5v1.5M245.5 860v1.5M245.5 449.5v1.5M249.5 437.5v1.5M249.5 860v1.5M249.5 449.5v1.5M253.5 437.5v1.5M253.5 860v1.5M253.5 449.5v1.5M256.5 437.5v1.5M256.5 860v1.5M256.5 449.5v1.5M260.5 437.5v1.5M260.5 860v1.5M260.5 449.5v1.5M263.5 437.5v1.5M263.5 860v1.5M263.5 449.5v1.5M267.5 437.5v1.5M267.5 860v1.5M267.5 449.5v1.5M270.5 437.5v1.5M270.5 860v1.5M270.5 449.5v1.5M274.5 437.5v1.5M274.5 860v1.5M274.5 449.5v1.5M278.5 437.5v1.5M278.5 860v1.5M278.5 449.5v1.5M281.5 437.5v1.5M281.5 860v1.5M281.5 449.5v1.5M285.5 437.5v1.5M285.5 860v1.5M285.5 449.5v1.5M288.5 437.5v1.5M288.5 860v1.5M288.5 449.5v1.5M292.5 437.5v1.5M292.5 860v1.5M292.5 449.5v1.5M295.5 437.5v1.5M295.5 860v1.5M295.5 449.5v1.5M299.5 437.5v1.5M299.5 860v1.5M299.5 449.5v1.5M303.5 437.5v1.5M303.5 860v1.5M303.5 449.5v1.5M306.5 437.5v1.5M306.5 860v1.5M306.5 449.5v1.5M310.5 437.5v1.5M310.5 860v1.5M310.5 449.5v1.5M313.5 437.5v1.5M313.5 860v1.5M313.5 449.5v1.5M317.5 437.5v1.5M317.5 860v1.5M317.5 449.5v1.5M321.5 437.5v1.5M321.5 860v1.5M321.5 449.5v1.5M324.5 437.5v1.5M324.5 860v1.5M324.5 449.5v1.5M328.5 437.5v1.5M328.5 860v1.5M328.5 449.5v1.5M331.5 437.5v1.5M331.5 860v1.5M331.5 449.5v1.5M335.5 437.5v1.5M335.5 860v1.5M335.5 449.5v1.5M338.5 437.5v1.5M338.5 860v1.5M338.5 449.5v1.5M342.5 437.5v1.5M342.5 860v1.5M342.5 449.5v1.5M346.5 437.5v1.5M346.5 860v1.5M346.5 449.5v1.5M349.5 437.5v1.5M349.5 860v1.5M349.5 449.5v1.5M353.5 437.5v1.5M353.5 860v1.5M353.5 449.5v1.5M356.5 437.5v1.5M356.5 860v1.5M356.5 449.5v1.5M360.5 437.5v1.5M360.5 860v1.5M360.5 449.5v1.5M363.5 437.5v1.5M363.5 860v1.5M363.5 449.5v1.5M367.5 437.5v1.5M367.5 860v1.5M367.5 449.5v1.5M371.5 437.5v1.5M371.5 860v1.5M371.5 449.5v1.5M374.5 437.5v1.5M374.5 860v1.5M374.5 449.5v1.5M378.5 437.5v1.5M378.5 860v1.5M378.5 449.5v1.5M381.5 437.5v1.5M381.5 860v1.5M381.5 449.5v1.5M385.5 437.5v1.5M385.5 860v1.5M385.5 449.5v1.5M389.5 437.5v1.5M389.5 860v1.5M389.5 449.5v1.5M392.5 437.5v1.5M392.5 860v1.5M392.5 449.5v1.5M396.5 437.5v1.5M396.5 860v1.5M396.5 449.5v1.5M399.5 437.5v1.5M399.5 860v1.5M399.5 449.5v1.5M403.5 437.5v1.5M403.5 860v1.5M403.5 449.5v1.5M406.5 437.5v1.5M406.5 860v1.5M406.5 449.5v1.5M410.5 437.5v1.5M410.5 860v1.5M410.5 449.5v1.5M414.5 437.5v1.5M414.5 860v1.5M414.5 449.5v1.5M417.5 437.5v1.5M417.5 860v1.5M417.5 449.5v1.5M421.5 437.5v1.5M421.5 860v1.5M421.5 449.5v1.5M424.5 437.5v1.5M424.5 860v1.5M424.5 449.5v1.5M428.5 437.5v1.5M428.5 860v1.5M428.5 449.5v1.5M432.5 437.5v1.5M432.5 860v1.5M432.5 449.5v1.5M435.5 437.5v1.5M435.5 860v1.5M435.5 449.5v1.5M439.5 437.5v1.5M439.5 860v1.5M439.5 449.5v1.5M442.5 437.5v1.5M442.5 860v1.5M442.5 449.5v1.5M446.5 437.5v1.5M446.5 860v1.5M446.5 449.5v1.5M449.5 437.5v1.5M449.5 860v1.5M449.5 449.5v1.5M453.5 437.5v1.5M453.5 860v1.5M453.5 449.5v1.5M457.5 437.5v1.5M457.5 860v1.5M457.5 449.5v1.5M460.5 437.5v1.5M460.5 860v1.5M460.5 449.5v1.5M464.5 437.5v1.5M464.5 860v1.5M464.5 449.5v1.5M467.5 437.5v1.5M467.5 860v1.5M467.5 449.5v1.5M471.5 437.5v1.5M471.5 860v1.5M471.5 449.5v1.5M474.5 437.5v1.5M474.5 860v1.5M474.5 449.5v1.5M478.5 437.5v1.5M478.5 860v1.5M478.5 449.5v1.5M482.5 437.5v1.5M482.5 860v1.5M482.5 449.5v1.5M485.5 437.5v1.5M485.5 860v1.5M485.5 449.5v1.5M489.5 437.5v1.5M489.5 860v1.5M489.5 449.5v1.5M492.5 437.5v1.5M492.5 860v1.5M492.5 449.5v1.5M496.5 437.5v1.5M496.5 860v1.5M496.5 449.5v1.5M500.5 437.5v1.5M500.5 860v1.5M500.5 449.5v1.5M503.5 437.5v1.5M503.5 860v1.5M503.5 449.5v1.5M507.5 437.5v1.5M507.5 860v1.5M507.5 449.5v1.5M510.5 437.5v1.5M510.5 860v1.5M510.5 449.5v1.5M514.5 437.5v1.5M514.5 860v1.5M514.5 449.5v1.5M517.5 437.5v1.5M517.5 860v1.5M517.5 449.5v1.5M521.5 437.5v1.5M521.5 860v1.5M521.5 449.5v1.5M525.5 437.5v1.5M525.5 860v1.5M525.5 449.5v1.5M528.5 437.5v1.5M528.5 860v1.5M528.5 449.5v1.5M532.5 437.5v1.5M532.5 860v1.5M532.5 449.5v1.5M535.5 437.5v1.5M535.5 860v1.5M535.5 449.5v1.5M539.5 437.5v1.5M539.5 860v1.5M539.5 449.5v1.5M542.5 437.5v1.5M542.5 860v1.5M542.5 449.5v1.5M546.5 437.5v1.5M546.5 860v1.5M546.5 449.5v1.5M550.5 437.5v1.5M550.5 860v1.5M550.5 449.5v1.5M553.5 437.5v1.5M553.5 860v1.5M553.5 449.5v1.5M557.5 437.5v1.5M557.5 860v1.5M557.5 449.5v1.5M560.5 437.5v1.5M560.5 860v1.5M560.5 449.5v1.5M564.5 437.5v1.5M564.5 860v1.5M564.5 449.5v1.5M568.5 437.5v1.5M568.5 860v1.5M568.5 449.5v1.5M571.5 437.5v1.5M571.5 860v1.5M571.5 449.5v1.5M575.5 437.5v1.5M575.5 860v1.5M575.5 449.5v1.5M578.5 437.5v1.5M578.5 860v1.5M578.5 449.5v1.5M582.5 437.5v1.5M582.5 860v1.5M582.5 449.5v1.5M585.5 437.5v1.5M585.5 860v1.5M585.5 449.5v1.5M589.5 437.5v1.5M589.5 860v1.5M589.5 449.5v1.5M593.5 437.5v1.5M593.5 860v1.5M593.5 449.5v1.5M596.5 437.5v1.5M596.5 860v1.5M596.5 449.5v1.5M600.5 437.5v1.5M600.5 860v1.5M600.5 449.5v1.5M603.5 437.5v1.5M603.5 860v1.5M603.5 449.5v1.5M607.5 437.5v1.5M607.5 860v1.5M607.5 449.5v1.5M611.5 437.5v1.5M611.5 860v1.5M611.5 449.5v1.5M614.5 437.5v1.5M614.5 860v1.5M614.5 449.5v1.5M618.5 437.5v1.5M618.5 860v1.5M618.5 449.5v1.5M621.5 437.5v1.5M621.5 860v1.5M621.5 449.5v1.5M625.5 437.5v1.5M625.5 860v1.5M625.5 449.5v1.5M628.5 437.5v1.5M628.5 860v1.5M628.5 449.5v1.5M632.5 437.5v1.5M632.5 860v1.5M632.5 449.5v1.5M636.5 437.5v1.5M636.5 860v1.5M636.5 449.5v1.5M639.5 437.5v1.5M639.5 860v1.5M639.5 449.5v1.5M643.5 437.5v1.5M643.5 860v1.5M643.5 449.5v1.5M646.5 437.5v1.5M646.5 860v1.5M646.5 449.5v1.5M650.5 437.5v1.5M650.5 860v1.5M650.5 449.5v1.5M653.5 437.5v1.5M653.5 860v1.5M653.5 449.5v1.5M657.5 437.5v1.5M657.5 860v1.5M657.5 449.5v1.5M661.5 437.5v1.5M661.5 860v1.5M661.5 449.5v1.5M664.5 437.5v1.5M664.5 860v1.5M664.5 449.5v1.5M668.5 437.5v1.5M668.5 860v1.5M668.5 449.5v1.5M671.5 437.5v1.5M671.5 860v1.5M671.5 449.5v1.5M675.5 437.5v1.5M675.5 860v1.5M675.5 449.5v1.5M679.5 437.5v1.5M679.5 860v1.5M679.5 449.5v1.5M682.5 437.5v1.5M682.5 860v1.5M682.5 449.5v1.5M686.5 437.5v1.5M686.5 860v1.5M686.5 449.5v1.5M689.5 437.5v1.5M689.5 860v1.5M689.5 449.5v1.5M693.5 437.5v1.5M693.5 860v1.5M693.5 449.5v1.5M696.5 437.5v1.5M696.5 860v1.5M696.5 449.5v1.5M700.5 437.5v1.5M700.5 860v1.5M700.5 449.5v1.5M704.5 437.5v1.5M704.5 860v1.5M704.5 449.5v1.5M707.5 437.5v1.5M707.5 860v1.5M707.5 449.5v1.5M711.5 437.5v1.5M711.5 860v1.5M711.5 449.5v1.5M714.5 437.5v1.5M714.5 860v1.5M714.5 449.5v1.5M718.5 437.5v1.5M718.5 860v1.5M718.5 449.5v1.5M721.5 437.5v1.5M721.5 860v1.5M721.5 449.5v1.5M725.5 437.5v1.5M725.5 860v1.5M725.5 449.5v1.5M729.5 437.5v1.5M729.5 860v1.5M729.5 449.5v1.5M732.5 437.5v1.5M732.5 860v1.5M732.5 449.5v1.5M736.5 437.5v1.5M736.5 860v1.5M736.5 449.5v1.5M739.5 437.5v1.5M739.5 860v1.5M739.5 449.5v1.5M743.5 437.5v1.5M743.5 860v1.5M743.5 449.5v1.5M747.5 437.5v1.5M747.5 860v1.5M747.5 449.5v1.5M750.5 437.5v1.5M750.5 860v1.5M750.5 449.5v1.5M754.5 437.5v1.5M754.5 860v1.5M754.5 449.5v1.5M757.5 437.5v1.5M757.5 860v1.5M757.5 449.5v1.5M761.5 437.5v1.5M761.5 860v1.5M761.5 449.5v1.5M764.5 437.5v1.5M764.5 860v1.5M764.5 449.5v1.5M768.5 437.5v1.5M768.5 860v1.5M768.5 449.5v1.5M772.5 437.5v1.5M772.5 860v1.5M772.5 449.5v1.5M775.5 437.5v1.5M775.5 860v1.5M775.5 449.5v1.5M779.5 437.5v1.5M779.5 860v1.5M779.5 449.5v1.5M782.5 437.5v1.5M782.5 860v1.5M782.5 449.5v1.5M786.5 437.5v1.5M786.5 860v1.5M786.5 449.5v1.5M790.5 437.5v1.5M790.5 860v1.5M790.5 449.5v1.5M793.5 437.5v1.5M793.5 860v1.5M793.5 449.5v1.5M797.5 437.5v1.5M797.5 860v1.5M797.5 449.5v1.5M800.5 437.5v1.5M800.5 860v1.5M800.5 449.5v1.5M804.5 437.5v1.5M804.5 860v1.5M804.5 449.5v1.5M807.5 437.5v1.5M807.5 860v1.5M807.5 449.5v1.5M811.5 437.5v1.5M811.5 860v1.5M811.5 449.5v1.5M815.5 437.5v1.5M815.5 860v1.5M815.5 449.5v1.5M818.5 437.5v1.5M818.5 860v1.5M818.5 449.5v1.5M822.5 437.5v1.5M822.5 860v1.5M822.5 449.5v1.5M825.5 437.5v1.5M825.5 860v1.5M825.5 449.5v1.5M829.5 437.5v1.5M829.5 860v1.5M829.5 449.5v1.5M832.5 437.5v1.5M832.5 860v1.5M832.5 449.5v1.5M836.5 437.5v1.5M836.5 860v1.5M836.5 449.5v1.5M840.5 437.5v1.5M840.5 860v1.5M840.5 449.5v1.5M843.5 437.5v1.5M843.5 860v1.5M843.5 449.5v1.5M847.5 437.5v1.5M847.5 860v1.5M847.5 449.5v1.5M850.5 437.5v1.5M850.5 860v1.5M850.5 449.5v1.5M854.5 437.5v1.5M854.5 860v1.5M854.5 449.5v1.5M858.5 437.5v1.5M858.5 860v1.5M858.5 449.5v1.5M861.5 437.5v1.5M861.5 860v1.5M861.5 449.5v1.5M865.5 437.5v1.5M865.5 860v1.5M865.5 449.5v1.5M868.5 437.5v1.5M868.5 860v1.5M868.5 449.5v1.5M872.5 437.5v1.5M872.5 860v1.5M872.5 449.5v1.5M875.5 437.5v1.5M875.5 860v1.5M875.5 449.5v1.5M879.5 437.5v1.5M879.5 860v1.5M879.5 449.5v1.5M883.5 437.5v1.5M883.5 860v1.5M883.5 449.5v1.5M886.5 437.5v1.5M886.5 860v1.5M886.5 449.5v1.5M890.5 437.5v1.5M890.5 860v1.5M890.5 449.5v1.5M893.5 437.5v1.5M893.5 860v1.5M893.5 449.5v1.5M897.5 437.5v1.5M897.5 860v1.5M897.5 449.5v1.5M900.5 437.5v1.5M900.5 860v1.5M900.5 449.5v1.5M904.5 437.5v1.5M904.5 860v1.5M904.5 449.5v1.5M908.5 437.5v1.5M908.5 860v1.5M908.5 449.5v1.5M911.5 437.5v1.5M911.5 860v1.5M911.5 449.5v1.5M915.5 437.5v1.5M915.5 860v1.5M915.5 449.5v1.5M918.5 437.5v1.5M918.5 860v1.5M918.5 449.5v1.5M922.5 437.5v1.5M922.5 860v1.5M922.5 449.5v1.5M926.5 437.5v1.5M926.5 860v1.5M926.5 449.5v1.5M929.5 437.5v1.5M929.5 860v1.5M929.5 449.5v1.5M933.5 437.5v1.5M933.5 860v1.5M933.5 449.5v1.5M936.5 437.5v1.5M936.5 860v1.5M936.5 449.5v1.5M940.5 437.5v1.5M940.5 860v1.5M940.5 449.5v1.5" stroke="#a8c4cc" stroke-width="1" fill="none"/>
<path d="M945.5 392.8L949.5 388H991V397.6H949.5z" fill="#d8f8f8" stroke="#f0e0a0" stroke-width="1"/>
<text x="949.5" y="396.4" font-size="10.3" textLength="40.3" lengthAdjust="spacingAndGlyphs">2760860</text>
<path d="M944.3 168.5L948.3 163.3H977.9V173.7H948.3z" fill="#d8fafa" stroke="#0a6a0a" stroke-width="1.3"/>
<text x="949" y="172.1" font-size="10" textLength="25.9" lengthAdjust="spacingAndGlyphs">62.79</text>
<path d="M944.3 153.4L948.3 148.2H977.9V158.6H948.3z" fill="#d8fafa" stroke="#ff00ff" stroke-width="1.3"/>
<text x="949" y="157.0" font-size="10" textLength="25.9" lengthAdjust="spacingAndGlyphs">64.52</text>
<path d="M944.3 114.6L948.3 109.4H977.9V119.8H948.3z" fill="#d8fafa" stroke="#dd1111" stroke-width="1.3"/>
<text x="949" y="118.2" font-size="10" textLength="25.9" lengthAdjust="spacingAndGlyphs">69.15</text>
<path d="M944.3 109.8L948.3 104.6H977.9V115.0H948.3z" fill="#d8fafa" stroke="#10108a" stroke-width="1.3"/>
<text x="949" y="113.4" font-size="10" textLength="25.9" lengthAdjust="spacingAndGlyphs">69.64</text>
<path d="M944.3 92.0L948.3 86.8H977.9V97.2H948.3z" fill="#d8fafa" stroke="#000" stroke-width="1.3"/>
<text x="949" y="95.6" font-size="10.5" font-weight="bold" textLength="25.9" lengthAdjust="spacingAndGlyphs">71.82</text>
<path d="M944.3 569.6L948.3 564.4H981.7V574.8H948.3z" fill="#d8fafa" stroke="#10108a" stroke-width="1.3"/>
<text x="949" y="573.2" font-size="10" textLength="29.7" lengthAdjust="spacingAndGlyphs">993.95</text>
<path d="M944.3 551.8L948.3 546.6H988.4V557.0H948.3z" fill="#d8fafa" stroke="#000" stroke-width="1.3"/>
<text x="949" y="555.4" font-size="10.5" font-weight="bold" textLength="36.4" lengthAdjust="spacingAndGlyphs">1022.55</text>
<path d="M44.8 31.299999999999997v8M48.3 31.299999999999997v8M50.8 31.799999999999997v7" stroke="#000" stroke-width="1"/><rect x="43.3" y="33.3" width="3" height="4" fill="#fff" stroke="#000" stroke-width="1"/><rect x="46.8" y="32.8" width="3" height="5" fill="#000"/><rect x="49.8" y="33.3" width="2" height="4" fill="#fff" stroke="#000" stroke-width="1"/>
<text x="56" y="39.7" font-size="10.8" textLength="113.5" lengthAdjust="spacingAndGlyphs" style="font-family:'DejaVu Sans',sans-serif">$WTIC (Daily) 71.82</text>
<rect x="43" y="45.5" width="8.5" height="2" fill="#00008b"/>
<text x="53.5" y="50" font-size="10" textLength="59.6" lengthAdjust="spacingAndGlyphs" style="fill:#00008b">MA(50) 69.64</text>
<rect x="43" y="56.5" width="8.5" height="2" fill="#cc0000"/>
<text x="53.5" y="61" font-size="10" textLength="66" lengthAdjust="spacingAndGlyphs" style="fill:#cc0000">MA(100) 69.15</text>
<rect x="43" y="67.2" width="8.5" height="2" fill="#006400"/>
<text x="53.5" y="71.7" font-size="10" textLength="66" lengthAdjust="spacingAndGlyphs" style="fill:#006400">MA(200) 62.79</text>
<rect x="43" y="78.2" width="8.5" height="2" fill="#ff00ff"/>
<text x="53.5" y="82.7" font-size="10" textLength="72.5" lengthAdjust="spacingAndGlyphs" style="fill:#ff00ff">EMA(165) 64.52</text>
<path d="M44.5 93v-4M47 93v-6.5M49.5 93v-5" stroke="#d8b040" stroke-width="1.3"/>
<text x="53.5" y="93" font-size="10" textLength="82" lengthAdjust="spacingAndGlyphs" style="fill:#2878b8">Volume 27,608,600</text>
<path d="M44.8 453.3v8M48.3 453.3v8M50.8 453.8v7" stroke="#000" stroke-width="1"/><rect x="43.3" y="455.3" width="3" height="4" fill="#fff" stroke="#000" stroke-width="1"/><rect x="46.8" y="454.8" width="3" height="5" fill="#000"/><rect x="49.8" y="455.3" width="2" height="4" fill="#fff" stroke="#000" stroke-width="1"/>
<text x="56" y="461.7" font-size="10.8" textLength="76.5" lengthAdjust="spacingAndGlyphs" style="font-family:'DejaVu Sans',sans-serif">$XOI 1022.55</text>
<rect x="43" y="468.3" width="8.5" height="2" fill="#00008b"/>
<text x="53.5" y="472.8" font-size="10" textLength="69.5" lengthAdjust="spacingAndGlyphs" style="fill:#00008b">MA(200) 993.95</text>
<path d="M458 126L912 3" stroke="#ff0000" stroke-width="3.2" stroke-dasharray="3.6 2.2" fill="none"/>
<path d="M153 414L982 142.6" stroke="#ff0000" stroke-width="3.2" stroke-dasharray="3.6 2.2" fill="none"/>
<path d="M0 413.8L828 426.4" stroke="#ff0000" stroke-width="3.2" stroke-dasharray="3.6 2.2" fill="none"/>
<path d="M468 495L828 437.6" stroke="#ff0000" stroke-width="3.2" stroke-dasharray="3.6 2.2" fill="none"/>
<path d="M732 457.5L988 553" stroke="#ff0000" stroke-width="3.2" stroke-dasharray="3.6 2.2" fill="none"/>
<path d="M145 851L977 582" stroke="#ff0000" stroke-width="3.2" stroke-dasharray="3.6 2.2" fill="none"/>
<path d="M27.7 333.2h26.6v10.2H45.8L41.8 348.4L37.8 343.4H27.7z" fill="#daf4f4" fill-opacity="0.95" stroke="#b0d4da" stroke-width="1"/>
<text class="pl" x="41.0" y="341.6" textLength="22.8" lengthAdjust="spacingAndGlyphs">41.72</text>
<path d="M59.9 343.9h26.6v10.2H78.0L74.0 359.1L70.0 354.1H59.9z" fill="#daf4f4" fill-opacity="0.95" stroke="#b0d4da" stroke-width="1"/>
<text class="pl" x="73.2" y="352.3" textLength="22.8" lengthAdjust="spacingAndGlyphs">40.47</text>
<path d="M31.3 380.4H41.4L45.4 375.4L49.4 380.4H57.9v10.2h-26.6z" fill="#daf4f4" fill-opacity="0.95" stroke="#b0d4da" stroke-width="1"/>
<text class="pl" x="44.6" y="388.8" textLength="22.8" lengthAdjust="spacingAndGlyphs">38.80</text>
<path d="M62.5 398.9H73.6L77.6 393.9L81.6 398.9H89.1v10.2h-26.6z" fill="#daf4f4" fill-opacity="0.95" stroke="#b0d4da" stroke-width="1"/>
<text class="pl" x="75.8" y="407.3" textLength="22.8" lengthAdjust="spacingAndGlyphs">36.63</text>
<path d="M85.0 378.3H95.1L99.1 373.3L103.1 378.3H111.6v10.2h-26.6z" fill="#daf4f4" fill-opacity="0.95" stroke="#b0d4da" stroke-width="1"/>
<text class="pl" x="98.3" y="386.7" textLength="22.8" lengthAdjust="spacingAndGlyphs">39.04</text>
<path d="M105.5 331.7h26.6v10.2H124.5L120.5 346.9L116.5 341.9H105.5z" fill="#daf4f4" fill-opacity="0.95" stroke="#b0d4da" stroke-width="1"/>
<text class="pl" x="118.8" y="340.1" textLength="22.8" lengthAdjust="spacingAndGlyphs">41.90</text>
<path d="M138.7 424.5H148.8L152.8 419.5L156.8 424.5H165.3v10.2h-26.6z" fill="#daf4f4" fill-opacity="0.95" stroke="#b0d4da" stroke-width="1"/>
<text class="pl" x="152.0" y="432.9" textLength="22.8" lengthAdjust="spacingAndGlyphs">33.64</text>
<path d="M162.7 321.8h26.6v10.2H181.8L177.8 337.0L173.8 332.0H162.7z" fill="#daf4f4" fill-opacity="0.95" stroke="#b0d4da" stroke-width="1"/>
<text class="pl" x="176.0" y="330.2" textLength="22.8" lengthAdjust="spacingAndGlyphs">43.06</text>
<path d="M169.9 369.6H181.0L185.0 364.6L189.0 369.6H196.5v10.2h-26.6z" fill="#daf4f4" fill-opacity="0.95" stroke="#b0d4da" stroke-width="1"/>
<text class="pl" x="183.2" y="378.0" textLength="22.8" lengthAdjust="spacingAndGlyphs">40.06</text>
<path d="M199.5 294.4h26.6v10.2H217.6L213.6 309.6L209.6 304.6H199.5z" fill="#daf4f4" fill-opacity="0.95" stroke="#b0d4da" stroke-width="1"/>
<text class="pl" x="212.8" y="302.8" textLength="22.8" lengthAdjust="spacingAndGlyphs">46.26</text>
<path d="M213.8 336.6H224.0L228.0 331.6L232.0 336.6H240.4v10.2h-26.6z" fill="#daf4f4" fill-opacity="0.95" stroke="#b0d4da" stroke-width="1"/>
<text class="pl" x="227.2" y="345.0" textLength="22.8" lengthAdjust="spacingAndGlyphs">43.92</text>
<path d="M256.8 267.3h26.6v10.2H274.9L270.9 282.5L266.9 277.5H256.8z" fill="#daf4f4" fill-opacity="0.95" stroke="#b0d4da" stroke-width="1"/>
<text class="pl" x="270.1" y="275.7" textLength="22.8" lengthAdjust="spacingAndGlyphs">49.43</text>
<path d="M267.5 317.5H277.6L281.6 312.5L285.6 317.5H294.1v10.2h-26.6z" fill="#daf4f4" fill-opacity="0.95" stroke="#b0d4da" stroke-width="1"/>
<text class="pl" x="280.8" y="325.9" textLength="22.8" lengthAdjust="spacingAndGlyphs">46.16</text>
<path d="M417.9 144.3h26.6v10.2H436.0L432.0 159.5L428.0 154.5H417.9z" fill="#daf4f4" fill-opacity="0.95" stroke="#b0d4da" stroke-width="1"/>
<text class="pl" x="431.2" y="152.7" textLength="22.8" lengthAdjust="spacingAndGlyphs">63.81</text>
<path d="M432.2 205.6H442.3L446.3 200.6L450.3 205.6H458.8v10.2h-26.6z" fill="#daf4f4" fill-opacity="0.95" stroke="#b0d4da" stroke-width="1"/>
<text class="pl" x="445.5" y="214.0" textLength="22.8" lengthAdjust="spacingAndGlyphs">59.24</text>
<path d="M443.0 108.7h26.6v10.2H461.1L457.1 123.9L453.1 118.9H443.0z" fill="#daf4f4" fill-opacity="0.95" stroke="#b0d4da" stroke-width="1"/>
<text class="pl" x="456.3" y="117.1" textLength="22.8" lengthAdjust="spacingAndGlyphs">67.98</text>
<path d="M460.9 122.2h26.6v10.2H479.0L475.0 137.4L471.0 132.4H460.9z" fill="#daf4f4" fill-opacity="0.95" stroke="#b0d4da" stroke-width="1"/>
<text class="pl" x="474.2" y="130.6" textLength="22.8" lengthAdjust="spacingAndGlyphs">66.40</text>
<path d="M481.8 222.6H492.4L496.4 217.6L500.4 222.6H508.4v10.2h-26.6z" fill="#daf4f4" fill-opacity="0.95" stroke="#b0d4da" stroke-width="1"/>
<text class="pl" x="495.1" y="231.0" textLength="22.8" lengthAdjust="spacingAndGlyphs">57.25</text>
<path d="M511.5 219.4H521.1L525.1 214.4L529.1 219.4H538.1v10.2h-26.6z" fill="#daf4f4" fill-opacity="0.95" stroke="#b0d4da" stroke-width="1"/>
<text class="pl" x="524.8" y="227.8" textLength="22.8" lengthAdjust="spacingAndGlyphs">57.63</text>
<path d="M500.2 157.5h26.6v10.2H518.4L514.4 172.7L510.4 167.7H500.2z" fill="#daf4f4" fill-opacity="0.95" stroke="#b0d4da" stroke-width="1"/>
<text class="pl" x="513.5" y="165.9" textLength="22.8" lengthAdjust="spacingAndGlyphs">62.27</text>
<path d="M550.4 139.5h26.6v10.2H568.5L564.5 154.7L560.5 149.7H550.4z" fill="#daf4f4" fill-opacity="0.95" stroke="#b0d4da" stroke-width="1"/>
<text class="pl" x="563.7" y="147.9" textLength="22.8" lengthAdjust="spacingAndGlyphs">64.38</text>
<path d="M557.5 193.9H567.6L571.6 188.9L575.6 193.9H584.1v10.2h-26.6z" fill="#daf4f4" fill-opacity="0.95" stroke="#b0d4da" stroke-width="1"/>
<text class="pl" x="570.8" y="202.3" textLength="22.8" lengthAdjust="spacingAndGlyphs">60.61</text>
<path d="M589.8 119.1h26.6v10.2H607.9L603.9 134.3L599.9 129.3H589.8z" fill="#daf4f4" fill-opacity="0.95" stroke="#b0d4da" stroke-width="1"/>
<text class="pl" x="603.1" y="127.5" textLength="22.8" lengthAdjust="spacingAndGlyphs">66.76</text>
<path d="M622.0 116.9h26.6v10.2H640.1L636.1 132.1L632.1 127.1H622.0z" fill="#daf4f4" fill-opacity="0.95" stroke="#b0d4da" stroke-width="1"/>
<text class="pl" x="635.3" y="125.3" textLength="22.8" lengthAdjust="spacingAndGlyphs">67.02</text>
<path d="M632.7 185.8H642.8L646.8 180.8L650.8 185.8H659.3v10.2h-26.6z" fill="#daf4f4" fill-opacity="0.95" stroke="#b0d4da" stroke-width="1"/>
<text class="pl" x="646.0" y="194.2" textLength="22.8" lengthAdjust="spacingAndGlyphs">61.56</text>
<path d="M740.1 31.7h26.6v10.2H758.2L754.2 46.9L750.2 41.9H740.1z" fill="#daf4f4" fill-opacity="0.95" stroke="#b0d4da" stroke-width="1"/>
<text class="pl" x="753.4" y="40.1" textLength="22.8" lengthAdjust="spacingAndGlyphs">76.98</text>
<path d="M758.0 44.2h26.6v10.2H776.1L772.1 59.4L768.1 54.4H758.0z" fill="#daf4f4" fill-opacity="0.95" stroke="#b0d4da" stroke-width="1"/>
<text class="pl" x="771.3" y="52.6" textLength="22.8" lengthAdjust="spacingAndGlyphs">75.52</text>
<path d="M747.3 107.1H757.4L761.4 102.1L765.4 107.1H773.9v10.2h-26.6z" fill="#daf4f4" fill-opacity="0.95" stroke="#b0d4da" stroke-width="1"/>
<text class="pl" x="760.6" y="115.5" textLength="22.8" lengthAdjust="spacingAndGlyphs">70.76</text>
<path d="M775.9 156.3H786.0L790.0 151.3L794.0 156.3H802.5v10.2h-26.6z" fill="#daf4f4" fill-opacity="0.95" stroke="#b0d4da" stroke-width="1"/>
<text class="pl" x="789.2" y="164.7" textLength="22.8" lengthAdjust="spacingAndGlyphs">65.01</text>
<path d="M804.6 55.3h26.6v10.2H822.6L818.6 70.5L814.6 65.5H804.6z" fill="#daf4f4" fill-opacity="0.95" stroke="#b0d4da" stroke-width="1"/>
<text class="pl" x="817.9" y="63.7" textLength="22.8" lengthAdjust="spacingAndGlyphs">74.23</text>
<path d="M836.8 94.7h26.6v10.2H854.9L850.9 109.9L846.9 104.9H836.8z" fill="#daf4f4" fill-opacity="0.95" stroke="#b0d4da" stroke-width="1"/>
<text class="pl" x="850.1" y="103.1" textLength="22.8" lengthAdjust="spacingAndGlyphs">69.62</text>
<path d="M826.0 155.1H836.1L840.1 150.1L844.1 155.1H852.6v10.2h-26.6z" fill="#daf4f4" fill-opacity="0.95" stroke="#b0d4da" stroke-width="1"/>
<text class="pl" x="839.3" y="163.5" textLength="22.8" lengthAdjust="spacingAndGlyphs">65.15</text>
<path d="M861.8 184.2H871.9L875.9 179.2L879.9 184.2H888.4v10.2h-26.6z" fill="#daf4f4" fill-opacity="0.95" stroke="#b0d4da" stroke-width="1"/>
<text class="pl" x="875.1" y="192.6" textLength="22.8" lengthAdjust="spacingAndGlyphs">61.74</text>
<path d="M919.1 64.6h26.6v10.2H937.2L933.2 79.8L929.2 74.8H919.1z" fill="#daf4f4" fill-opacity="0.95" stroke="#b0d4da" stroke-width="1"/>
<text class="pl" x="932.4" y="73.0" textLength="22.8" lengthAdjust="spacingAndGlyphs">73.14</text>
</svg></body></html>
